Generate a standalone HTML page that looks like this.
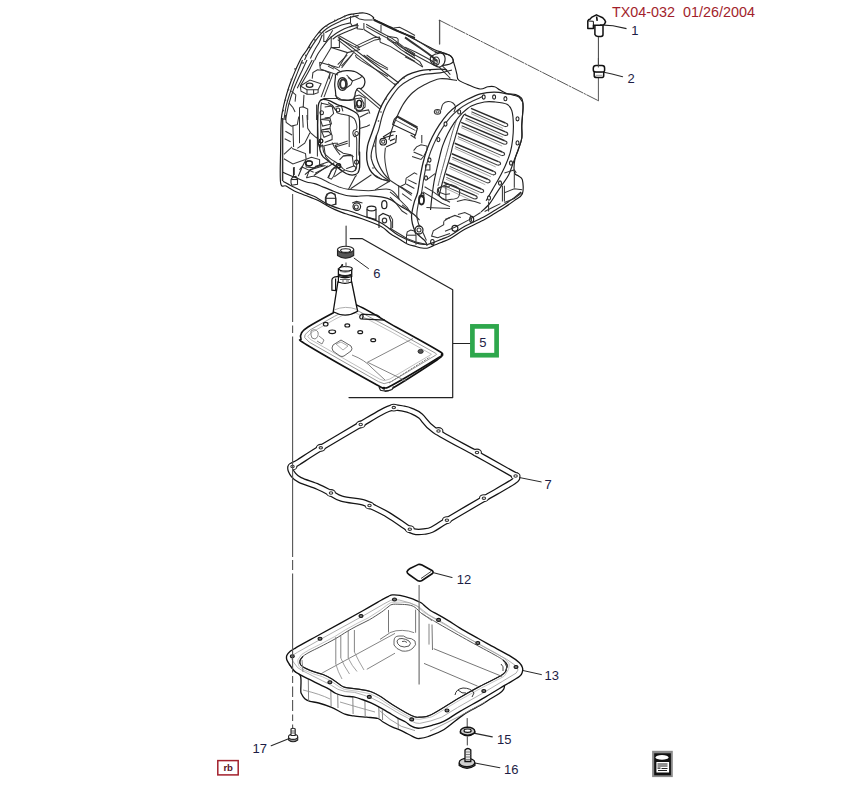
<!DOCTYPE html>
<html><head><meta charset="utf-8"><style>
html,body{margin:0;padding:0;background:#fff;width:860px;height:808px;overflow:hidden}
svg{display:block}
text{font-family:"Liberation Sans",sans-serif}
</style></head><body>
<svg width="860" height="808" viewBox="0 0 860 808">
<rect width="860" height="808" fill="#fff"/>

<text x="612" y="16.9" font-size="14" fill="#a21e2c" textLength="143" lengthAdjust="spacingAndGlyphs" style="white-space:pre" xml:space="preserve">TX04-032  01/26/2004</text>
<g fill="none" stroke="#2a2a2a" stroke-width="1" stroke-linecap="round" stroke-linejoin="round">
<path d="M439.6,44 V20.3" stroke="#555" stroke-width="1.3"/>
<path d="M439.6,20.3 L598.5,100.8" stroke="#444" stroke-dasharray="12,1.5,1.5,1.5" stroke-width="0.9"/>
<path d="M598.4,100.8 V78" stroke="#444" stroke-width="0.9"/>
<path d="M598.4,65.5 V37.5" stroke-width="0.9"/>
<path d="M604,72.3 L612,74 L622.6,76.7" stroke-width="1.1"/>
<path d="M346.1,226 V251.5" stroke-width="1.2" stroke="#444"/>
<path d="M354.2,258.2 L368.5,268.6" stroke-width="1"/>
<path d="M350.2,238.6 H362 L452.7,289.8 V397.6 H349 M452.7,343.5 H470.5" stroke-width="1.2" stroke="#222" stroke-linejoin="round"/>
<path d="M520.2,477.7 L541.2,481.9" stroke-width="1"/>
<path d="M433.7,572.8 L452,577.5" stroke-width="1.1"/>
<path d="M522.5,670.4 L541.4,674.6" stroke-width="1"/>
<path d="M467.2,718.5 V727 M467.3,737 V745" stroke-width="0.9"/>
<path d="M474.9,733.4 L492.3,736.9 M474.9,763 L499.9,767.7" stroke-width="1.1"/>
<path d="M288.6,738.8 L271.2,745.8" stroke-width="1.1"/>
</g>
<g font-size="13" fill="#1d1d45">
<text x="631.2" y="34.8">1</text>
<text x="627.6" y="82.8">2</text>
<text x="373.3" y="277.6">6</text>
<text x="479.2" y="346.8">5</text>
<text x="544.6" y="489.2">7</text>
<text x="456.8" y="583.8">12</text>
<text x="544.6" y="679.8">13</text>
<text x="497" y="743.8">15</text>
<text x="504" y="774.1">16</text>
<text x="252.6" y="752.8">17</text>
</g>
<rect x="472.4" y="326.4" width="24.2" height="28.8" fill="none" stroke="#2ea74c" stroke-width="4.7"/>
<rect x="217.8" y="760.6" width="20.4" height="14.3" fill="#fff" stroke="#a3202c" stroke-width="1.5"/>
<text x="223.4" y="770.8" font-size="9.6" font-weight="bold" fill="#5a1424">rb</text>
<g>
<rect x="652.1" y="750.8" width="20.7" height="26.3" fill="#8a8a8a"/>
<rect x="654.2" y="753.3" width="16.7" height="22" fill="#111"/>
<ellipse cx="662" cy="757.4" rx="6.5" ry="2.4" fill="#fff"/>
<rect x="656.4" y="762" width="12.7" height="10.5" fill="#fff"/>
<path d="M657.5,764 h10 M657.5,766 h10 M657.5,768.2 h3 M661.5,768.5 h6 M658,770.5 h9" stroke="#222" stroke-width="1.2"/>
</g>
<path d="M347.0,15.2 C349.4,14.3 351.1,14.3 353.0,14.0 C354.9,13.7 356.9,13.4 358.7,13.2 C360.5,13.0 362.2,12.8 364.0,13.0 C365.8,13.2 367.9,13.8 369.5,14.5 C371.1,15.2 372.6,16.6 373.5,17.5 C374.4,18.4 371.5,17.9 375.0,19.8 C378.5,21.7 388.3,25.9 394.5,28.9 C400.7,31.9 405.4,34.6 412.0,38.0 C418.6,41.4 429.0,47.1 434.0,49.5 C439.0,51.9 439.4,51.3 442.0,52.3 C444.6,53.2 447.9,54.2 449.6,55.2 C451.4,56.2 451.9,57.2 452.5,58.2 C453.1,59.2 452.8,59.5 453.3,61.2 C453.8,62.9 454.9,66.4 455.5,68.6 C456.1,70.8 456.5,72.7 457.0,74.6 C457.5,76.5 456.7,78.1 458.5,79.8 C460.3,81.5 464.2,83.1 467.8,84.6 C471.4,86.1 476.6,88.6 480.0,89.0 C483.4,89.4 485.5,87.2 487.9,86.8 C490.3,86.4 492.6,86.2 494.6,86.8 C496.6,87.3 498.1,89.0 500.1,90.1 C502.1,91.2 504.2,92.8 506.8,93.5 C509.4,94.2 513.3,93.9 515.7,94.6 C518.1,95.3 520.1,96.6 521.3,97.9 C522.5,99.2 522.5,100.6 522.8,102.4 C523.1,104.2 523.2,105.2 523.0,109.0 C522.8,112.8 522.0,120.4 521.8,125.2 C521.6,130.0 522.3,134.0 521.8,138.0 C521.2,142.0 519.7,145.6 518.5,149.3 C517.3,153.0 515.5,156.1 514.8,160.0 C514.1,163.9 513.9,170.3 514.5,172.9 C515.1,175.5 517.0,174.7 518.3,175.8 C519.6,177.0 521.7,176.8 522.4,179.8 C523.1,182.8 523.8,190.2 522.4,193.7 C521.0,197.2 517.3,198.3 514.3,200.6 C511.3,202.9 507.7,205.3 504.4,207.5 C501.1,209.7 497.8,211.5 494.5,213.5 C491.2,215.5 489.6,216.8 484.6,219.4 C479.7,222.0 470.6,226.1 464.8,229.3 C459.0,232.5 453.8,236.6 450.0,238.7 C446.2,240.8 444.8,240.9 442.0,242.1 C439.2,243.2 435.6,244.6 433.3,245.6 C431.0,246.6 429.9,247.6 428.0,248.0 C426.1,248.4 424.0,248.2 422.0,248.0 C420.0,247.8 418.4,247.2 416.0,246.5 C413.6,245.8 410.2,245.2 407.3,243.9 C404.4,242.6 401.6,240.4 398.7,238.7 C395.8,237.0 392.9,235.5 390.0,233.5 C387.1,231.5 385.9,228.9 381.2,226.5 C376.5,224.1 367.5,220.8 362.0,218.8 C356.5,216.8 351.1,215.5 348.0,214.5 C344.9,213.5 345.3,213.7 343.1,212.9 C340.9,212.1 337.7,210.8 335.0,209.6 C332.3,208.4 329.5,207.1 326.8,205.6 C324.1,204.1 321.4,202.1 318.7,200.7 C316.0,199.3 313.3,198.5 310.6,197.4 C307.9,196.3 305.1,195.3 302.4,194.2 C299.7,193.1 297.0,192.3 294.3,190.9 C291.6,189.5 288.4,187.3 286.1,186.0 C283.8,184.7 281.5,188.8 280.6,182.8 C279.7,176.8 280.5,159.6 280.6,150.0 C280.7,140.4 280.8,130.7 281.0,125.0 C281.2,119.3 281.2,119.1 281.7,115.7 C282.2,112.3 283.0,108.3 283.9,104.6 C284.8,100.9 285.8,97.1 286.9,93.4 C288.0,89.7 289.2,86.0 290.6,82.3 C292.0,78.6 293.7,74.4 295.1,71.1 C296.5,67.8 297.8,65.0 299.0,62.5 C300.2,60.0 301.2,58.0 302.5,56.0 C303.8,54.0 305.3,52.5 306.7,50.3 C308.1,48.1 309.5,45.4 311.1,42.9 C312.7,40.4 314.4,37.9 316.3,35.5 C318.2,33.1 320.1,30.8 322.3,28.8 C324.5,26.8 327.0,25.2 329.7,23.6 C332.4,22.0 335.7,20.5 338.6,19.1 C341.5,17.7 344.6,16.1 347.0,15.2 Z" fill="#fff" stroke="#1a1a1a" stroke-width="1.15" />
<path d="M282.6,118.0 L282.6,181.0" fill="none" stroke="#333" stroke-width="1.49"/>
<path d="M358.7,15.4 C357.1,15.8 352.1,16.7 349.0,17.7 C345.9,18.6 343.1,20.0 340.1,21.4 C337.1,22.7 333.9,24.2 331.2,25.8 C328.5,27.4 326.0,29.0 323.8,31.0 C321.5,33.0 319.7,35.4 317.8,37.7 C316.0,40.1 314.2,42.7 312.6,45.1 C311.0,47.6 309.5,50.1 308.2,52.6 C306.8,55.0 305.1,58.7 304.5,60.0" fill="none" stroke="#2a2a2a" stroke-width="1.09" />
<path d="M350.5,22.9 C349.0,23.2 344.6,24.1 341.6,25.1 C338.6,26.1 335.4,27.6 332.7,28.8 C329.9,30.0 326.5,31.9 325.2,32.5" fill="none" stroke="#2a2a2a" stroke-width="1.09" />
<path d="M322.3,34.7 C321.8,36.0 320.5,39.7 319.3,42.2 C318.1,44.6 316.3,46.9 314.9,49.6 C313.4,52.3 311.1,57.0 310.4,58.5" fill="none" stroke="#2a2a2a" stroke-width="1.09" />
<path d="M357.9,24.3 C356.3,24.8 351.2,26.2 348.3,27.3 C345.3,28.4 342.4,29.8 340.1,31.0 C337.7,32.3 336.1,33.2 334.2,34.7 C332.2,36.2 330.1,37.9 328.2,39.9 C326.4,41.9 324.8,44.3 323.0,46.6 C321.3,49.0 319.2,51.8 317.8,54.0 C316.5,56.3 315.3,59.0 314.9,60.0" fill="none" stroke="#2a2a2a" stroke-width="1.09" />
<path d="M357.9,27.3 C356.9,27.7 354.2,28.7 352.0,29.5 C349.8,30.4 346.9,31.5 344.6,32.5 C342.2,33.5 339.9,34.4 337.9,35.5 C335.9,36.6 333.5,38.6 332.7,39.2" fill="none" stroke="#2a2a2a" stroke-width="1.09" />
<path d="M323.8,32.5 L323.8,41.4 L326.0,41.4 L332.7,30.3" fill="none" stroke="#333" stroke-width="1.03"/>
<path d="M331.2,36.2 L331.2,47.4 L339.4,47.4 L339.4,37.7" fill="none" stroke="#333" stroke-width="1.03"/>
<path d="M338.6,35.5 L360.0,47.4" fill="none" stroke="#333" stroke-width="1.03"/>
<path d="M338.6,38.4 L360.0,49.6" fill="none" stroke="#333" stroke-width="1.03"/>
<path d="M350.5,16.2 L350.5,22.9" fill="none" stroke="#333" stroke-width="1.03"/>
<path d="M358.7,25.8 L352.0,25.8 L350.5,22.9" fill="none" stroke="#333" stroke-width="1.03"/>
<path d="M331.2,47.4 L347.5,52.6 L360.0,49.6" fill="none" stroke="#333" stroke-width="1.03"/>
<path d="M331.2,47.4 L320.0,65.9" fill="none" stroke="#333" stroke-width="1.03"/>
<path d="M353.5,52.6 L341.6,68.0" fill="none" stroke="#333" stroke-width="1.03"/>
<path d="M347.5,52.6 L338.6,68.0" fill="none" stroke="#333" stroke-width="1.03"/>
<circle cx="353.5" cy="14.7" r="0.9" fill="#444"/>
<circle cx="344.6" cy="16.5" r="0.9" fill="#444"/>
<circle cx="334.9" cy="20.3" r="0.9" fill="#444"/>
<circle cx="326.7" cy="25.8" r="0.9" fill="#444"/>
<circle cx="320.0" cy="32.5" r="0.9" fill="#444"/>
<circle cx="314.9" cy="39.9" r="0.9" fill="#444"/>
<circle cx="309.7" cy="47.4" r="0.9" fill="#444"/>
<circle cx="305.9" cy="55.5" r="0.9" fill="#444"/>
<circle cx="303.0" cy="62.9" r="0.9" fill="#444"/>
<path d="M302.5,60.0 C301.8,61.9 299.5,67.4 298.0,71.1 C296.6,74.9 295.0,78.6 293.6,82.3 C292.2,86.0 291.1,89.5 289.9,93.4 C288.6,97.4 287.2,101.6 286.2,106.0 C285.2,110.5 284.3,117.7 283.9,120.0" fill="none" stroke="#2a2a2a" stroke-width="1.09" />
<path d="M307.0,60.0 C306.2,61.6 304.1,66.2 302.5,69.7 C300.9,73.1 298.9,77.2 297.3,80.8 C295.7,84.4 294.2,87.5 292.9,91.2 C291.5,94.9 290.3,98.9 289.1,103.1 C288.0,107.3 286.8,113.6 286.2,116.4 C285.5,119.3 285.5,119.4 285.4,120.0" fill="none" stroke="#2a2a2a" stroke-width="1.09" />
<path d="M312.2,60.0 C311.3,61.6 308.7,66.4 307.0,69.7 C305.2,72.9 303.4,76.2 301.8,79.3 C300.2,82.4 298.0,86.7 297.3,88.2" fill="none" stroke="#2a2a2a" stroke-width="1.09" />
<path d="M314.4,60.0 C313.6,61.5 311.4,66.1 309.9,68.9 C308.4,71.8 307.1,74.2 305.5,77.1 C303.9,79.9 301.1,84.5 300.3,86.0" fill="none" stroke="#2a2a2a" stroke-width="1.09" />
<path d="M300.3,86.0 L309.9,80.0 L321.1,83.8 L318.1,89.7 L307.0,89.7 L300.3,86.0" fill="none" stroke="#333" stroke-width="1.03"/>
<path d="M300.3,86.0 L301.0,91.2 L307.0,94.2 L313.6,94.2 L318.1,92.7 L318.1,89.7" fill="none" stroke="#333" stroke-width="1.03"/>
<path d="M307.0,89.7 L307.0,94.2" fill="none" stroke="#333" stroke-width="1.03"/>
<path d="M313.6,89.7 L313.6,94.2" fill="none" stroke="#333" stroke-width="1.03"/>
<path d="M304.0,94.9 L303.2,107.5" fill="none" stroke="#333" stroke-width="1.03"/>
<path d="M299.5,107.5 L299.5,120.0" fill="none" stroke="#333" stroke-width="1.03"/>
<path d="M299.5,107.5 L303.2,106.8 L307.7,109.0 L307.7,120.0" fill="none" stroke="#333" stroke-width="1.03"/>
<path d="M312.2,78.6 L312.9,72.6 L317.4,69.7 L324.0,70.4 L330.0,73.4 L329.2,79.3" fill="none" stroke="#333" stroke-width="1.03"/>
<path d="M330.0,73.4 L321.1,97.1" fill="none" stroke="#333" stroke-width="1.03"/>
<path d="M332.9,74.1 L324.0,97.1" fill="none" stroke="#333" stroke-width="1.03"/>
<path d="M319.6,62.2 L320.3,68.9" fill="none" stroke="#333" stroke-width="1.03"/>
<path d="M319.6,62.2 L338.0,67.4" fill="none" stroke="#333" stroke-width="1.03"/>
<path d="M320.3,68.9 L338.0,74.9" fill="none" stroke="#333" stroke-width="1.03"/>
<path d="M321.1,100.1 L324.0,98.6 L338.0,98.6" fill="none" stroke="#333" stroke-width="1.03"/>
<path d="M316.6,104.6 L316.6,120.0" fill="none" stroke="#333" stroke-width="1.03"/>
<path d="M289.1,103.1 L292.9,107.5 L295.1,112.0" fill="none" stroke="#333" stroke-width="1.03"/>
<path d="M291.4,91.2 L295.8,94.9 L295.1,101.6" fill="none" stroke="#333" stroke-width="1.03"/>
<ellipse cx="309.6" cy="85.2" rx="3.3" ry="2.1" fill="none" stroke="#222" stroke-width="1.26"/>
<circle cx="295.1" cy="68.9" r="0.9" fill="#444"/>
<circle cx="291.4" cy="79.3" r="0.9" fill="#444"/>
<circle cx="288.4" cy="89.7" r="0.9" fill="#444"/>
<circle cx="285.4" cy="100.1" r="0.9" fill="#444"/>
<circle cx="283.2" cy="110.5" r="0.9" fill="#444"/>
<path d="M355.0,16.2 L359.5,19.1 L364.7,19.9 L372.8,19.9" fill="none" stroke="#333" stroke-width="1.03"/>
<path d="M357.2,22.9 L357.2,28.8 L363.2,29.5" fill="none" stroke="#333" stroke-width="1.03"/>
<path d="M363.9,22.9 L363.9,29.5" fill="none" stroke="#333" stroke-width="1.03"/>
<path d="M366.1,24.3 L381.0,32.5 L392.1,38.4 L403.3,46.6 L415.0,54.0" fill="none" stroke="#333" stroke-width="1.03"/>
<path d="M366.1,26.6 L379.5,34.0 L390.6,39.9 L402.5,48.1 L415.0,56.3" fill="none" stroke="#333" stroke-width="1.03"/>
<path d="M381.0,25.1 L381.0,31.8" fill="none" stroke="#333" stroke-width="1.03"/>
<path d="M393.6,28.0 L399.6,27.3 L407.0,31.0 L415.0,35.5" fill="none" stroke="#333" stroke-width="1.03"/>
<path d="M395.1,30.3 L402.5,32.5 L415.0,39.2" fill="none" stroke="#333" stroke-width="1.03"/>
<path d="M363.9,29.5 L373.6,35.5 L381.0,39.2" fill="none" stroke="#333" stroke-width="1.03"/>
<path d="M355.0,46.6 L362.4,42.9 L373.6,37.7 L379.5,37.0 L380.2,42.2" fill="none" stroke="#333" stroke-width="1.03"/>
<path d="M357.2,48.1 L375.0,39.9 L379.5,39.2" fill="none" stroke="#333" stroke-width="1.03"/>
<path d="M380.2,42.2 L390.6,46.6 L402.5,54.0 L415.0,61.5" fill="none" stroke="#333" stroke-width="1.03"/>
<path d="M387.7,36.2 L396.6,37.7 L398.1,39.2 L398.1,42.9 L392.1,42.2 L387.7,39.2 L387.7,36.2" fill="none" stroke="#333" stroke-width="1.03"/>
<path d="M396.6,42.9 L405.5,49.6 L415.0,55.5" fill="none" stroke="#333" stroke-width="1.03"/>
<path d="M392.1,42.2 L401.0,49.6 L415.0,58.5" fill="none" stroke="#333" stroke-width="1.03"/>
<path d="M373.6,19.9 L384.7,25.1 L393.6,29.5 L402.5,33.2 L415.0,37.7" fill="none" stroke="#222" stroke-width="1.72"/>
<path d="M405.0,33.7 L418.4,41.1 L433.2,50.8 L436.9,52.3" fill="none" stroke="#333" stroke-width="1.03"/>
<path d="M405.0,47.1 L416.1,52.3 L427.3,58.2 L434.7,62.7 L437.7,64.9" fill="none" stroke="#333" stroke-width="1.03"/>
<path d="M405.0,50.0 L415.4,55.2 L426.5,61.2 L434.7,65.6" fill="none" stroke="#333" stroke-width="1.03"/>
<path d="M405.0,52.3 L412.4,56.7 L419.9,61.9 L422.8,67.1" fill="none" stroke="#333" stroke-width="1.03"/>
<path d="M405.0,56.7 L413.9,61.2 L422.8,67.1" fill="none" stroke="#333" stroke-width="1.03"/>
<path d="M439.2,67.1 L444.4,72.3 L448.1,76.0 L450.3,78.3" fill="none" stroke="#333" stroke-width="1.03"/>
<path d="M442.1,65.6 L446.6,70.1 L450.3,74.6" fill="none" stroke="#333" stroke-width="1.03"/>
<path d="M405.0,37.4 L412.4,42.6 L419.9,47.8 L427.3,53.0 L433.2,57.5 L436.9,61.2" fill="none" stroke="#333" stroke-width="1.95"/>
<path d="M430.2,57.5 C430.7,57.1 432.1,55.9 433.2,55.2 C434.3,54.6 435.7,54.1 436.9,53.8 C438.2,53.4 439.5,52.9 440.6,53.0 C441.8,53.1 442.9,53.6 443.6,54.5 C444.4,55.4 445.0,56.9 445.1,58.2 C445.2,59.6 444.9,61.4 444.4,62.7 C443.9,63.9 443.0,64.9 442.1,65.6 C441.3,66.4 440.4,67.1 439.2,67.1 C437.9,67.1 436.1,66.5 434.7,65.6 C433.3,64.8 431.7,63.3 431.0,61.9 C430.2,60.6 430.4,58.2 430.2,57.5" fill="none" stroke="#222" stroke-width="1.15" />
<path d="M434.7,53.0 C435.2,52.9 436.1,52.2 437.7,52.3 C439.3,52.4 442.4,53.3 444.4,53.8 C446.3,54.3 448.2,54.5 449.6,55.2 C450.9,56.0 451.9,57.2 452.5,58.2 C453.1,59.2 453.5,60.3 453.3,61.2 C453.0,62.1 452.2,62.8 451.0,63.4 C449.9,64.0 448.1,64.5 446.6,64.9 C445.1,65.3 442.9,65.5 442.1,65.6" fill="none" stroke="#222" stroke-width="1.15" />
<ellipse cx="436.2" cy="61.2" rx="3.2" ry="4.2" fill="none" stroke="#222" stroke-width="1.15"/>
<ellipse cx="435.7" cy="61.7" rx="1.6" ry="2.4" fill="none" stroke="#444" stroke-width="1.03"/>
<path d="M335.4,75.0 C336.0,74.6 337.3,72.8 339.1,72.1 C341.0,71.3 344.1,70.7 346.6,70.6 C349.0,70.5 351.6,70.6 354.0,71.3 C356.3,72.1 358.9,73.8 360.7,75.0 C362.4,76.3 363.8,77.2 364.4,78.8 C365.0,80.4 364.9,83.1 364.4,84.7 C363.9,86.3 362.5,87.8 361.4,88.4 C360.3,89.0 358.7,87.8 357.7,88.4 C356.7,89.0 356.0,90.8 355.5,92.1 C355.0,93.5 355.1,95.3 354.7,96.6 C354.4,97.8 354.6,98.9 353.2,99.6 C351.9,100.2 348.9,100.3 346.6,100.3 C344.2,100.3 340.9,100.2 339.1,99.6 C337.4,98.9 336.8,98.1 336.2,96.6 C335.5,95.1 335.7,92.6 335.4,90.6 C335.2,88.7 334.7,86.9 334.7,84.7 C334.7,82.5 335.3,78.9 335.4,77.3 C335.5,75.7 335.4,75.4 335.4,75.0" fill="none" stroke="#222" stroke-width="1.21" />
<ellipse cx="342.5" cy="84.0" rx="4.6" ry="6.4" fill="none" stroke="#222" stroke-width="1.26"/>
<ellipse cx="343.1" cy="84.0" rx="3.0" ry="4.6" fill="none" stroke="#333" stroke-width="2.07"/>
<path d="M346.6,75.0 L352.5,81.0 L359.9,78.0 L362.9,75.8" fill="none" stroke="#333" stroke-width="1.03"/>
<path d="M348.0,77.3 L352.5,81.0 L351.0,84.7 L346.6,87.7" fill="none" stroke="#333" stroke-width="1.03"/>
<path d="M356.2,89.2 L380.0,109.2" fill="none" stroke="#333" stroke-width="1.03"/>
<path d="M359.9,88.4 L381.5,107.0" fill="none" stroke="#333" stroke-width="1.03"/>
<path d="M328.0,63.9 L335.4,68.4 L341.4,72.1" fill="none" stroke="#333" stroke-width="1.03"/>
<path d="M328.0,66.1 L333.9,69.1" fill="none" stroke="#333" stroke-width="1.03"/>
<path d="M337.7,64.7 L345.1,57.2 L347.3,55.0" fill="none" stroke="#333" stroke-width="1.03"/>
<path d="M341.4,66.1 L348.8,58.0 L351.8,55.0" fill="none" stroke="#333" stroke-width="1.03"/>
<path d="M355.5,55.0 L356.2,57.2 L361.4,60.9 L372.6,67.6 L388.0,76.5" fill="none" stroke="#333" stroke-width="1.03"/>
<path d="M363.6,55.0 L369.6,59.5 L380.0,66.1 L388.0,69.9" fill="none" stroke="#333" stroke-width="1.03"/>
<path d="M366.6,55.0 L374.0,60.2 L388.0,68.4" fill="none" stroke="#333" stroke-width="1.03"/>
<path d="M328.0,102.5 L332.5,105.5 L336.9,111.4" fill="none" stroke="#333" stroke-width="1.03"/>
<path d="M335.4,107.0 L341.4,105.5 L342.9,111.4" fill="none" stroke="#333" stroke-width="1.03"/>
<path d="M354.0,96.6 L359.2,95.1 L365.1,98.1 L365.1,107.0 L359.9,111.4 L354.7,108.5 L354.0,96.6" fill="none" stroke="#333" stroke-width="1.03"/>
<ellipse cx="359.2" cy="104.0" rx="2.6" ry="3.6" fill="none" stroke="#222" stroke-width="1.15"/>
<path d="M285.4,115.0 L286.2,122.4 L291.4,126.1 L297.3,124.7 L298.8,116.5" fill="none" stroke="#333" stroke-width="1.03"/>
<path d="M299.5,115.0 L299.5,143.2" fill="none" stroke="#333" stroke-width="1.03"/>
<path d="M302.5,115.0 L303.2,127.6" fill="none" stroke="#333" stroke-width="1.03"/>
<path d="M307.0,115.0 L307.7,128.4 L310.7,132.8 L315.9,137.3 L318.1,138.8" fill="none" stroke="#333" stroke-width="1.03"/>
<path d="M317.4,115.0 L317.4,156.6" fill="none" stroke="#333" stroke-width="1.03"/>
<path d="M320.3,119.5 L330.0,118.0 L331.5,123.9 L322.6,126.1 L320.3,119.5" fill="none" stroke="#333" stroke-width="1.03"/>
<path d="M321.1,129.9 L330.0,128.4 L331.5,134.3 L324.0,137.3 L321.1,129.9" fill="none" stroke="#333" stroke-width="1.03"/>
<path d="M284.7,138.8 L290.6,141.7" fill="none" stroke="#333" stroke-width="1.03"/>
<path d="M285.4,131.3 L292.1,135.0" fill="none" stroke="#333" stroke-width="1.03"/>
<path d="M292.9,126.1 L293.6,146.9" fill="none" stroke="#333" stroke-width="1.03"/>
<path d="M292.1,146.9 L283.9,154.4" fill="none" stroke="#333" stroke-width="1.03"/>
<path d="M292.1,148.4 L305.5,153.6 L306.2,159.6" fill="none" stroke="#333" stroke-width="1.03"/>
<path d="M283.9,158.8 L292.9,164.0 L305.5,159.6" fill="none" stroke="#333" stroke-width="1.03"/>
<path d="M297.3,148.4 L304.7,143.2 L307.7,137.3 L309.9,132.8" fill="none" stroke="#333" stroke-width="1.03"/>
<path d="M305.5,159.6 L311.4,157.3 L319.6,159.6 L319.6,165.5 L313.6,167.7 L306.2,167.0 L305.5,159.6" fill="none" stroke="#333" stroke-width="1.03"/>
<path d="M324.0,146.2 L325.5,156.6 L330.0,161.8" fill="none" stroke="#333" stroke-width="1.03"/>
<path d="M322.6,146.2 L334.4,143.2 L338.0,143.2" fill="none" stroke="#333" stroke-width="1.03"/>
<path d="M294.3,167.0 L294.3,175.0" fill="none" stroke="#333" stroke-width="1.03"/>
<path d="M299.5,169.9 L301.8,167.0 L308.4,169.9 L313.6,172.2" fill="none" stroke="#333" stroke-width="1.03"/>
<path d="M309.9,169.9 L319.6,167.0 L325.5,165.5" fill="none" stroke="#333" stroke-width="1.03"/>
<path d="M309.9,139.5 L309.9,153.6" fill="none" stroke="#333" stroke-width="1.84"/>
<ellipse cx="309.2" cy="163.3" rx="3.3" ry="2.5" fill="none" stroke="#222" stroke-width="1.15"/>
<ellipse cx="321.1" cy="141.0" rx="1.9" ry="1.9" fill="none" stroke="#222" stroke-width="1.03"/>
<path d="M319.5,147.0 C319.2,146.1 318.2,145.7 318.0,139.6 C317.7,133.4 317.7,116.2 318.0,109.9 C318.2,103.5 318.7,103.4 319.5,101.7 C320.2,100.0 320.7,99.6 322.4,99.5 C324.2,99.3 327.4,100.1 329.9,100.9 C332.3,101.8 334.6,103.5 337.3,104.7 C340.0,105.8 343.5,106.5 346.2,107.6 C348.9,108.7 351.6,110.1 353.6,111.3 C355.6,112.6 357.1,113.4 358.1,115.0 C359.1,116.7 359.3,118.1 359.6,121.0 C359.8,123.8 359.6,127.8 359.6,132.1 C359.5,136.5 359.2,143.2 359.2,147.0 C359.1,150.8 359.1,154.1 359.2,155.0 C359.2,155.9 359.5,150.4 359.6,152.4 C359.6,154.5 359.8,163.9 359.6,167.3 C359.3,170.6 358.8,171.2 358.1,172.5 C357.3,173.7 356.6,174.3 355.1,174.7 C353.6,175.1 351.1,175.2 349.2,174.7 C347.2,174.2 345.2,173.0 343.2,171.7 C341.2,170.5 339.5,168.9 337.3,167.3 C335.0,165.7 332.2,163.8 329.9,162.1 C327.5,160.3 324.8,158.7 323.2,156.9 C321.6,155.0 320.8,152.9 320.2,150.9 C319.6,149.0 319.6,145.7 319.5,145.0 C319.3,144.3 319.7,147.9 319.5,147.0 Z" fill="none" stroke="#1e1e1e" stroke-width="1.32" />
<path d="M321.7,103.2 C323.0,103.5 327.5,104.3 329.9,105.4 C332.2,106.5 334.6,108.6 335.8,109.9 C337.0,111.1 336.2,112.1 337.3,112.8 C338.4,113.6 340.5,113.8 342.5,114.3 C344.5,114.8 347.2,115.0 349.2,115.8 C351.1,116.5 353.1,117.3 354.4,118.8 C355.6,120.2 356.2,123.0 356.6,124.7 C357.0,126.4 357.1,128.2 356.6,129.2 C356.1,130.1 354.2,129.9 353.6,130.6 C353.0,131.4 352.7,132.6 352.9,133.6 C353.0,134.6 353.7,135.8 354.4,136.6 C355.0,137.3 356.2,135.0 356.6,138.1 C357.0,141.1 356.6,152.6 356.6,155.0 C356.6,157.4 356.6,150.4 356.6,152.4 C356.6,154.5 356.8,164.3 356.6,167.3 C356.3,170.2 355.8,169.5 355.1,170.2 C354.4,171.0 353.4,171.6 352.1,171.7 C350.9,171.9 349.2,171.5 347.7,171.0 C346.2,170.5 344.7,169.9 343.2,168.8 C341.7,167.6 340.2,165.5 338.8,164.3 C337.3,163.1 335.8,162.3 334.3,161.3 C332.8,160.3 331.6,159.9 329.9,158.4 C328.1,156.9 325.1,154.7 323.9,152.4 C322.7,150.2 323.0,145.9 322.4,145.0 C321.9,144.1 320.9,147.9 320.6,147.0 C320.3,146.1 320.5,142.0 320.6,139.6 C320.6,137.1 320.9,135.8 320.9,132.1 C320.9,128.4 320.6,121.6 320.6,117.3 C320.6,112.9 320.8,108.5 320.9,106.1 C321.1,103.8 321.6,103.7 321.7,103.2 C321.8,102.7 320.3,102.8 321.7,103.2 Z" fill="none" stroke="#333" stroke-width="1.03" />
<ellipse cx="338.0" cy="109.9" rx="1.8" ry="2.0" fill="none" stroke="#222" stroke-width="1.03"/>
<ellipse cx="356.6" cy="133.6" rx="1.8" ry="2.0" fill="none" stroke="#222" stroke-width="1.03"/>
<ellipse cx="320.9" cy="141.0" rx="1.8" ry="2.0" fill="none" stroke="#222" stroke-width="1.03"/>
<ellipse cx="321.7" cy="112.8" rx="1.8" ry="2.0" fill="none" stroke="#222" stroke-width="1.03"/>
<ellipse cx="338.8" cy="165.8" rx="2.0" ry="2.2" fill="none" stroke="#222" stroke-width="1.03"/>
<ellipse cx="356.6" cy="162.1" rx="2.0" ry="2.2" fill="none" stroke="#222" stroke-width="1.03"/>
<path d="M321.7,119.5 L329.1,120.2 L330.6,124.7 L329.9,128.4 L322.4,129.9" fill="none" stroke="#333" stroke-width="1.03"/>
<path d="M320.9,132.1 L328.4,131.4 L332.1,135.1 L332.1,139.6 L324.7,142.5" fill="none" stroke="#333" stroke-width="1.03"/>
<path d="M324.7,106.9 L332.1,106.1 L333.6,113.6 L329.9,117.3 L324.7,118.0" fill="none" stroke="#333" stroke-width="1.03"/>
<path d="M332.1,142.5 L334.3,147.0 L337.3,151.4 L340.2,155.0" fill="none" stroke="#333" stroke-width="1.03"/>
<path d="M335.0,145.5 L347.7,141.0" fill="none" stroke="#333" stroke-width="1.03"/>
<path d="M335.0,147.0 L347.7,143.3" fill="none" stroke="#333" stroke-width="1.03"/>
<path d="M349.2,115.8 L349.2,147.0" fill="none" stroke="#333" stroke-width="1.03"/>
<path d="M356.6,112.1 L368.5,109.9 L369.9,113.6" fill="none" stroke="#333" stroke-width="1.03"/>
<path d="M359.6,117.3 L368.5,112.8" fill="none" stroke="#333" stroke-width="1.03"/>
<path d="M359.6,128.4 L367.0,126.2 L369.9,124.7" fill="none" stroke="#333" stroke-width="1.03"/>
<path d="M355.1,98.7 L361.0,98.0 L364.0,103.9 L362.5,109.9 L356.6,110.6 L355.1,104.7 L355.1,98.7" fill="none" stroke="#333" stroke-width="1.03"/>
<path d="M335.0,95.0 L337.3,97.2 L341.0,99.5 L348.4,100.2 L354.4,98.7" fill="none" stroke="#333" stroke-width="1.03"/>
<ellipse cx="359.2" cy="103.2" rx="2.2" ry="3.0" fill="none" stroke="#222" stroke-width="1.15"/>
<path d="M335.0,145.0 L337.3,149.5 L343.2,153.2 L350.6,154.7 L353.6,156.9" fill="none" stroke="#333" stroke-width="1.03"/>
<path d="M339.5,159.9 L343.2,156.1 L350.6,154.7" fill="none" stroke="#333" stroke-width="1.03"/>
<path d="M343.2,156.1 L352.1,155.4 L353.6,165.8 L355.8,167.3 L355.1,171.0" fill="none" stroke="#333" stroke-width="1.03"/>
<path d="M346.2,168.8 L354.4,165.8" fill="none" stroke="#333" stroke-width="1.03"/>
<path d="M315.0,166.5 L329.9,161.3" fill="none" stroke="#333" stroke-width="1.03"/>
<path d="M315.0,173.2 L328.4,166.5 L334.3,162.8" fill="none" stroke="#333" stroke-width="1.03"/>
<path d="M328.4,177.7 L331.3,170.2 L334.3,167.3 L336.5,168.8 L333.6,176.2 L331.3,179.2 L328.4,177.7" fill="none" stroke="#333" stroke-width="1.03"/>
<path d="M334.3,176.9 L340.2,172.5 L344.7,170.2" fill="none" stroke="#333" stroke-width="1.03"/>
<path d="M348.4,189.6 L355.1,176.9 L356.6,175.4" fill="none" stroke="#333" stroke-width="1.03"/>
<path d="M350.6,188.8 L367.0,177.7 L371.4,174.7" fill="none" stroke="#333" stroke-width="1.03"/>
<path d="M326.1,197.0 L328.4,193.3 L331.3,192.5 L335.0,194.8 L335.8,198.5 L335.8,205.0" fill="none" stroke="#333" stroke-width="1.03"/>
<path d="M326.1,197.0 L326.1,205.0" fill="none" stroke="#333" stroke-width="1.03"/>
<path d="M352.1,202.9 L356.6,201.4 L362.5,202.9" fill="none" stroke="#333" stroke-width="1.03"/>
<path d="M282.9,181.2 C284.1,181.8 287.6,183.9 290.2,185.2 C292.8,186.6 295.6,187.9 298.3,189.3 C301.1,190.7 303.8,192.2 306.5,193.4 C309.2,194.6 311.9,195.3 314.6,196.6 C317.3,198.0 320.1,200.0 322.8,201.5 C325.5,203.0 328.1,204.4 330.9,205.6 C333.8,206.8 337.0,208.0 339.9,208.8 C342.7,209.7 344.3,209.4 348.0,210.5 C351.7,211.6 356.5,213.4 362.0,215.5 C367.5,217.6 375.1,219.7 381.2,223.0 C387.3,226.3 392.9,232.2 398.7,235.5 C404.5,238.8 411.4,241.5 416.0,243.0 C420.6,244.5 424.3,244.2 426.0,244.5" fill="none" stroke="#222" stroke-width="1.15" />
<path d="M282.9,172.2 C284.1,172.8 287.6,174.4 290.2,175.5 C292.8,176.6 295.6,177.6 298.3,178.7 C301.1,179.8 303.8,181.2 306.5,182.0 C309.2,182.8 311.9,182.8 314.6,183.6 C317.3,184.4 320.1,185.8 322.8,186.9 C325.5,187.9 328.2,189.0 330.9,190.1 C333.6,191.2 336.2,192.4 339.0,193.4 C341.9,194.3 345.1,195.3 348.0,195.8 C350.9,196.3 353.3,196.3 356.7,196.3 C360.1,196.3 363.2,195.5 368.4,195.8 C373.5,196.2 382.3,196.7 387.6,198.4 C392.9,200.1 396.1,203.4 400.3,206.0 C404.6,208.6 409.9,211.3 413.1,213.7 C416.3,216.0 418.4,219.0 419.5,220.1" fill="none" stroke="#222" stroke-width="1.15" />
<path d="M306.5,177.9 C307.8,177.6 311.9,176.0 314.6,176.3 C317.3,176.6 320.1,178.3 322.8,179.5 C325.5,180.8 328.2,182.4 330.9,183.6 C333.6,184.8 336.2,185.9 339.0,186.9 C341.9,187.8 343.1,188.7 348.0,189.3 C352.9,189.9 361.5,190.7 368.4,190.7 C375.3,190.7 384.4,188.0 389.6,189.4 C394.8,190.8 397.9,197.7 399.5,199.3" fill="none" stroke="#333" stroke-width="1.03" />
<path d="M291.0,179.5 L292.7,177.1 L295.9,176.3 L297.5,178.7 L297.5,184.4 L291.8,185.2 L291.0,182.8 L291.0,179.5" fill="none" stroke="#2a2a2a" stroke-width="1.09"/>
<path d="M325.2,198.3 L326.8,194.2 L330.9,192.6 L335.0,194.2 L335.8,198.3 L335.8,204.0 L330.9,205.6 L326.0,204.0 L325.2,198.3" fill="none" stroke="#2a2a2a" stroke-width="1.09"/>
<path d="M291.0,179.5 L297.5,179.5" fill="none" stroke="#2a2a2a" stroke-width="1.09"/>
<path d="M325.2,198.3 L335.8,198.3" fill="none" stroke="#2a2a2a" stroke-width="1.09"/>
<path d="M293.5,167.3 L293.5,177.1" fill="none" stroke="#2a2a2a" stroke-width="1.09"/>
<path d="M298.3,176.3 L302.4,166.5 L304.9,161.6" fill="none" stroke="#2a2a2a" stroke-width="1.09"/>
<path d="M304.9,174.7 L310.6,169.8 L317.1,166.5 L323.6,164.9" fill="none" stroke="#2a2a2a" stroke-width="1.09"/>
<path d="M306.5,177.9 L308.9,171.4 L310.6,169.0" fill="none" stroke="#2a2a2a" stroke-width="1.09"/>
<path d="M313.8,175.5 L321.1,170.6 L327.7,165.7" fill="none" stroke="#2a2a2a" stroke-width="1.09"/>
<path d="M327.7,177.9 L331.7,170.6 L335.0,167.3 L339.9,164.9" fill="none" stroke="#2a2a2a" stroke-width="1.09"/>
<ellipse cx="308.9" cy="163.3" rx="3.5" ry="2.5" fill="none" stroke="#222" stroke-width="1.15"/>
<ellipse cx="338.2" cy="165.7" rx="2" ry="2" fill="none" stroke="#222" stroke-width="1.15"/>
<ellipse cx="356.8" cy="206.6" rx="3.8" ry="3.8" fill="#fff" stroke="#222" stroke-width="1.15"/>
<ellipse cx="356.3" cy="207.0" rx="2" ry="2" fill="none" stroke="#333" stroke-width="1.03"/>
<path d="M367.0,209.0 L367.0,217.0 L376.0,219.5 L376.0,209.0" fill="none" stroke="#222" stroke-width="1.15"/>
<ellipse cx="371.5" cy="208.5" rx="4.5" ry="2.4" fill="#fff" stroke="#222" stroke-width="1.15"/>
<ellipse cx="384.3" cy="204.7" rx="2.6" ry="4" fill="#fff" stroke="#222" stroke-width="1.26"/>
<path d="M379.0,228.0 L379.0,216.0 L383.0,213.5 L389.0,216.0 L391.0,222.0 L391.0,229.0" fill="none" stroke="#222" stroke-width="1.15"/>
<ellipse cx="384.5" cy="220.5" rx="2.2" ry="2.4" fill="none" stroke="#333" stroke-width="1.15"/>
<path d="M337.7,36.6 L398.8,83.0" fill="none" stroke="#2a2a2a" stroke-width="1.15"/>
<path d="M337.7,39.6 L395.5,85.2" fill="none" stroke="#333" stroke-width="1.03"/>
<path d="M426.0,245.0 C427.2,244.6 430.6,243.6 433.3,242.6 C436.0,241.6 439.2,240.2 442.0,239.1 C444.8,237.9 446.2,237.8 450.0,235.7 C453.8,233.6 459.0,229.5 464.8,226.3 C470.6,223.1 479.7,219.0 484.6,216.4 C489.6,213.8 491.2,212.5 494.5,210.5 C497.8,208.5 501.1,206.7 504.4,204.5 C507.7,202.3 511.5,199.7 514.3,197.6 C517.1,195.5 519.9,192.9 521.0,192.0" fill="none" stroke="#222" stroke-width="1.15" />
<path d="M447.0,70.5 C446.5,70.3 446.7,69.5 443.9,69.3 C441.1,69.1 434.3,69.3 430.2,69.6 C426.1,69.9 423.2,70.0 419.4,70.9 C415.6,71.8 410.8,73.2 407.5,74.9 C404.2,76.6 402.2,78.3 399.6,80.8 C397.0,83.3 394.2,86.6 391.7,89.7 C389.2,92.8 386.8,96.3 384.8,99.6 C382.8,102.9 381.3,105.9 379.8,109.5 C378.3,113.1 377.2,117.3 375.8,121.4 C374.4,125.5 372.9,129.9 371.5,134.0 C370.1,138.1 368.3,141.7 367.5,146.0 C366.7,150.3 366.4,155.8 366.8,159.7 C367.2,163.6 368.5,167.0 369.8,169.6 C371.1,172.2 373.2,174.0 374.8,175.5 C376.4,177.0 377.2,177.5 379.7,178.5 C382.2,179.5 388.0,181.0 389.6,181.5" fill="none" stroke="#222" stroke-width="1.32" />
<path d="M452.0,70.0 C450.0,70.5 445.1,72.1 440.0,72.9 C434.9,73.7 426.5,73.8 421.4,74.9 C416.3,76.1 413.1,77.8 409.5,79.8 C405.9,81.8 402.6,83.9 399.6,86.7 C396.6,89.5 394.0,93.3 391.7,96.6 C389.4,99.9 387.3,103.0 385.7,106.5 C384.1,110.0 382.9,113.6 381.8,117.4 C380.7,121.2 379.9,125.5 378.8,129.3 C377.7,133.1 376.2,136.2 375.0,140.0 C373.8,143.8 372.1,148.9 371.5,152.0 C370.9,155.1 370.8,156.1 371.3,158.7 C371.9,161.3 373.2,164.9 374.8,167.6 C376.4,170.2 378.4,172.4 380.7,174.6 C383.0,176.8 387.3,179.5 388.6,180.5" fill="none" stroke="#2a2a2a" stroke-width="1.15" />
<path d="M457.0,80.5 C454.2,80.2 445.4,78.1 440.0,78.8 C434.6,79.5 429.0,82.5 424.4,84.8 C419.8,87.1 416.0,89.6 412.5,92.7 C409.0,95.8 406.1,99.8 403.6,103.6 C401.1,107.4 399.2,111.9 397.6,115.4 C396.0,118.9 394.9,121.3 393.7,124.4 C392.5,127.5 391.3,131.4 390.5,134.0 C389.7,136.6 389.2,139.0 389.0,140.0" fill="none" stroke="#2a2a2a" stroke-width="1.15" />
<path d="M376.5,135.0 C376.4,136.8 375.7,142.4 375.7,146.1 C375.7,149.8 375.9,154.0 376.5,157.3 C377.1,160.7 378.3,163.5 379.5,166.2 C380.7,168.9 382.2,171.2 383.9,173.6 C385.6,175.9 388.9,179.2 389.9,180.3" fill="none" stroke="#2a2a2a" stroke-width="1.15" />
<path d="M385.4,147.6 C385.3,149.2 384.6,153.8 384.7,157.3 C384.8,160.8 385.5,165.2 386.1,168.4 C386.7,171.6 387.8,174.6 388.4,176.6 C389.0,178.6 389.6,179.7 389.9,180.3" fill="none" stroke="#333" stroke-width="1.03" />
<circle cx="386" cy="99" r="0.8" fill="#333"/>
<circle cx="378.5" cy="121" r="0.8" fill="#333"/>
<circle cx="374" cy="146" r="0.8" fill="#333"/>
<circle cx="404" cy="78" r="0.8" fill="#333"/>
<circle cx="430" cy="70.5" r="0.8" fill="#333"/>
<circle cx="373" cy="168" r="0.8" fill="#333"/>
<circle cx="395" cy="84" r="0.8" fill="#333"/>
<circle cx="381" cy="112" r="0.8" fill="#333"/>
<path d="M394.2,119.4 L397.1,116.4 L417.4,128.3 L415.4,135.2 L392.7,124.4 L394.2,119.4" fill="none" stroke="#222" stroke-width="1.15"/>
<path d="M397.1,116.4 L417.4,127.5" fill="none" stroke="#333" stroke-width="2.07"/>
<path d="M394.2,119.4 L415.4,130.5" fill="none" stroke="#444" stroke-width="0.92"/>
<path d="M386.1,146.9 L395.8,142.4 L396.5,135.0" fill="none" stroke="#222" stroke-width="1.15"/>
<path d="M383.2,138.0 L393.6,135.0" fill="none" stroke="#222" stroke-width="1.15"/>
<path d="M389.9,140.9 L395.0,138.7" fill="none" stroke="#222" stroke-width="1.15"/>
<path d="M383.0,137.0 L391.0,132.0 L395.5,131.5" fill="none" stroke="#222" stroke-width="1.15"/>
<ellipse cx="383.2" cy="141.7" rx="3.3" ry="3.3" fill="#fff" stroke="#222" stroke-width="1.15"/>
<ellipse cx="383.2" cy="141.7" rx="1.6" ry="1.6" fill="none" stroke="#333" stroke-width="1.03"/>
<path d="M375.0,175.1 L382.4,179.6 L389.9,181.0" fill="none" stroke="#333" stroke-width="1.03"/>
<path d="M375.0,189.9 L389.9,181.0" fill="none" stroke="#333" stroke-width="1.03"/>
<path d="M389.9,180.3 L400.2,187.0 L403.2,188.5" fill="none" stroke="#333" stroke-width="1.03"/>
<path d="M406.2,178.1 L414.4,172.9 L417.3,174.4" fill="none" stroke="#333" stroke-width="1.03"/>
<path d="M406.2,178.1 L405.4,184.0 L399.5,187.0" fill="none" stroke="#333" stroke-width="1.03"/>
<path d="M407.7,179.6 L416.6,184.0" fill="none" stroke="#333" stroke-width="1.03"/>
<path d="M406.2,184.0 L414.4,188.5" fill="none" stroke="#333" stroke-width="1.03"/>
<path d="M401.0,187.0 L412.1,193.7" fill="none" stroke="#333" stroke-width="1.03"/>
<path d="M413.6,150.6 L416.6,146.9 L421.0,144.7 L427.0,146.1 L427.0,149.9 L424.0,155.8 L421.0,159.5 L416.6,158.0 L412.1,156.5" fill="none" stroke="#333" stroke-width="1.03"/>
<path d="M413.6,152.1 L422.5,155.8" fill="none" stroke="#333" stroke-width="1.03"/>
<path d="M421.8,135.0 L421.8,143.2" fill="none" stroke="#333" stroke-width="1.03"/>
<path d="M425.5,164.7 L429.9,164.7 L429.9,169.9 L425.5,169.9 L425.5,164.7" fill="none" stroke="#333" stroke-width="1.03"/>
<path d="M427.0,179.6 L435.0,173.6" fill="none" stroke="#333" stroke-width="1.03"/>
<path d="M410.6,135.0 L415.1,138.0 L414.4,135.0" fill="none" stroke="#333" stroke-width="1.03"/>
<ellipse cx="437.5" cy="111.8" rx="3.2" ry="2.4" fill="none" stroke="#333" stroke-width="1.03"/>
<ellipse cx="437.5" cy="111.8" rx="1.5" ry="1.1" fill="none" stroke="#333" stroke-width="0.92"/>
<path d="M441.0,110.0 C441.3,109.0 441.8,105.4 443.0,104.0 C444.2,102.6 446.3,101.7 448.0,101.5 C449.7,101.3 451.8,102.1 453.0,103.0 C454.2,103.9 455.3,105.5 455.5,107.0 C455.7,108.5 454.2,111.2 454.0,112.0" fill="none" stroke="#333" stroke-width="1.03" />
<path d="M522.8,102.4 C522.2,101.5 520.3,98.2 519.0,97.0 C517.7,95.8 517.0,96.0 515.0,95.5 C513.0,95.0 510.5,94.3 507.0,93.8 C503.5,93.2 498.5,92.2 494.1,92.2 C489.7,92.2 485.0,92.6 480.5,93.8 C476.0,95.0 471.0,97.5 467.0,99.5 C463.0,101.5 459.8,103.7 456.6,106.0 C453.4,108.3 450.8,110.4 447.9,113.6 C445.0,116.8 441.9,121.0 439.3,124.9 C436.7,128.8 434.3,133.0 432.3,137.0 C430.3,141.0 428.7,144.8 427.1,149.1 C425.6,153.4 424.2,158.2 423.0,163.0 C421.8,167.8 420.9,173.0 420.0,178.0 C419.1,183.0 418.5,188.9 417.5,193.0 C416.5,197.1 415.2,198.6 414.2,202.3 C413.2,206.0 411.9,211.7 411.6,215.3 C411.3,218.9 411.8,221.1 412.5,224.0 C413.2,226.9 414.0,229.9 416.0,232.6 C418.0,235.3 422.7,238.2 424.6,240.4 C426.5,242.6 426.8,244.7 427.2,245.6" fill="none" stroke="#222" stroke-width="1.26" />
<path d="M482.6,96.6 C480.3,97.7 472.8,100.8 468.7,103.0 C464.6,105.2 461.3,107.3 458.3,109.7 C455.3,112.1 453.1,114.2 450.5,117.2 C447.9,120.2 445.1,123.8 442.7,127.6 C440.2,131.3 437.8,135.7 435.8,139.7 C433.8,143.7 432.2,147.6 430.6,151.8 C429.1,156.0 427.7,160.3 426.5,165.0 C425.3,169.7 424.3,175.3 423.5,180.0 C422.7,184.7 422.3,189.3 421.5,193.0 C420.7,196.7 419.4,198.6 418.6,202.3 C417.8,206.0 416.8,211.7 416.8,215.3 C416.8,218.9 417.6,221.1 418.6,224.0 C419.6,226.9 421.6,229.9 422.9,232.6 C424.2,235.3 425.8,239.1 426.4,240.4" fill="none" stroke="#333" stroke-width="1.09" />
<path d="M486.1,200.8 C487.2,198.9 490.4,193.3 492.5,189.6 C494.6,185.8 496.9,182.3 499.0,178.3 C501.1,174.3 503.5,169.7 505.4,165.4 C507.3,161.1 509.0,156.9 510.2,152.6 C511.4,148.3 512.1,144.3 512.6,139.7 C513.1,135.1 513.5,130.0 513.4,125.2 C513.3,120.4 512.9,114.2 511.8,110.7 C510.7,107.2 509.9,105.8 507.0,104.3 C504.1,102.8 497.9,102.3 494.1,101.9 C490.3,101.5 488.1,101.3 484.3,102.0 C480.5,102.7 475.1,104.1 471.3,106.0 C467.6,107.9 464.7,110.8 461.8,113.6 C458.9,116.4 456.3,119.8 454.0,123.1 C451.7,126.4 449.8,129.8 447.9,133.5 C446.0,137.2 444.0,142.0 442.7,145.6 C441.4,149.2 441.1,151.3 440.1,155.0 C439.2,158.7 438.0,163.5 437.0,168.0 C436.0,172.5 434.8,177.3 434.0,182.0 C433.2,186.7 432.6,191.3 432.0,196.0 C431.4,200.7 430.8,207.7 430.5,210.0" fill="none" stroke="#222" stroke-width="1.15" />
<path d="M466.0,114.0 C465.6,114.2 464.5,113.9 463.5,115.3 C462.5,116.7 461.0,119.8 460.0,122.3 C459.0,124.8 458.2,127.3 457.4,130.0 C456.5,132.7 455.8,135.8 454.9,138.7 C454.0,141.6 453.0,144.7 452.3,147.4 C451.6,150.1 451.3,152.1 450.5,155.0 C449.7,157.9 448.5,161.7 447.5,165.0 C446.5,168.3 445.5,171.5 444.5,175.0 C443.5,178.5 442.4,182.5 441.5,186.0 C440.6,189.5 439.4,194.3 439.0,196.0" fill="none" stroke="#2a2a2a" stroke-width="1.15" />
<path d="M456.6,119.7 C455.9,121.8 453.7,128.1 452.5,132.0 C451.3,135.9 450.4,139.7 449.5,143.0 C448.6,146.3 447.9,148.7 447.0,152.0 C446.1,155.3 445.0,159.3 444.0,163.0 C443.0,166.7 442.0,170.2 441.0,174.0 C440.0,177.8 438.5,184.0 438.0,186.0" fill="none" stroke="#555" stroke-width="0.92" />
<path d="M522.8,102.4 C522.8,103.5 523.2,105.2 523.0,109.0 C522.8,112.8 522.0,120.4 521.8,125.2 C521.6,130.0 522.4,134.0 521.8,138.0 C521.2,142.0 519.7,145.3 518.3,149.3 C516.9,153.3 515.0,157.9 513.4,162.2 C511.8,166.5 510.5,171.2 508.6,175.0 C506.7,178.8 504.4,181.5 502.2,184.7 C500.0,187.9 497.8,191.2 495.7,194.4 C493.6,197.6 491.8,201.1 489.3,204.0 C486.9,206.9 482.4,210.7 481.0,212.0" fill="none" stroke="#222" stroke-width="1.15" />
<ellipse cx="483.7" cy="97.0" rx="1.5" ry="2.1" fill="#fff" stroke="#222" stroke-width="1.09"/>
<ellipse cx="494.1" cy="97.0" rx="1.5" ry="2.1" fill="#fff" stroke="#222" stroke-width="1.09"/>
<ellipse cx="505.4" cy="98.7" rx="1.5" ry="2.1" fill="#fff" stroke="#222" stroke-width="1.09"/>
<ellipse cx="517.5" cy="118.8" rx="1.5" ry="2.1" fill="#fff" stroke="#222" stroke-width="1.09"/>
<ellipse cx="517.5" cy="142.9" rx="1.5" ry="2.1" fill="#fff" stroke="#222" stroke-width="1.09"/>
<ellipse cx="459.2" cy="111.9" rx="1.5" ry="2.1" fill="#fff" stroke="#222" stroke-width="1.09"/>
<ellipse cx="438.4" cy="139.6" rx="1.5" ry="2.1" fill="#fff" stroke="#222" stroke-width="1.09"/>
<ellipse cx="445.5" cy="124.0" rx="1.5" ry="2.1" fill="#fff" stroke="#222" stroke-width="1.09"/>
<ellipse cx="429.5" cy="160.0" rx="1.5" ry="2.1" fill="#fff" stroke="#222" stroke-width="1.09"/>
<ellipse cx="426.0" cy="178.0" rx="1.5" ry="2.1" fill="#fff" stroke="#222" stroke-width="1.09"/>
<ellipse cx="511.0" cy="163.0" rx="1.5" ry="2.1" fill="#fff" stroke="#222" stroke-width="1.09"/>
<ellipse cx="500.0" cy="183.0" rx="1.5" ry="2.1" fill="#fff" stroke="#222" stroke-width="1.09"/>
<ellipse cx="422.5" cy="195.0" rx="1.5" ry="2.1" fill="#fff" stroke="#222" stroke-width="1.09"/>
<ellipse cx="489.0" cy="198.0" rx="1.5" ry="2.1" fill="#fff" stroke="#222" stroke-width="1.09"/>
<path d="M471.0,108.4 L505.5,123.0" fill="none" stroke="#2a2a2a" stroke-width="1.49"/>
<path d="M471.5,111.8 L505.0,126.6" fill="none" stroke="#444" stroke-width="1.03"/>
<path d="M505.5,123.0 C505.8,123.2 507.2,123.6 507.5,124.1 C507.8,124.6 507.7,125.7 507.3,126.1 C506.9,126.5 505.4,126.5 505.0,126.6" fill="none" stroke="#333" stroke-width="1.15" />
<path d="M471.0,113.6 L503.0,128.4" fill="none" stroke="#888" stroke-width="0.69"/>
<path d="M465.2,114.9 L505.5,131.9" fill="none" stroke="#2a2a2a" stroke-width="1.49"/>
<path d="M465.7,118.3 L505.0,135.5" fill="none" stroke="#444" stroke-width="1.03"/>
<path d="M505.5,131.9 C505.8,132.1 507.2,132.5 507.5,133.0 C507.8,133.5 507.7,134.6 507.3,135.0 C506.9,135.4 505.4,135.4 505.0,135.5" fill="none" stroke="#333" stroke-width="1.15" />
<path d="M465.2,120.1 L503.0,137.3" fill="none" stroke="#888" stroke-width="0.69"/>
<path d="M461.2,122.4 L504.7,140.7" fill="none" stroke="#2a2a2a" stroke-width="1.49"/>
<path d="M461.7,125.8 L504.2,144.3" fill="none" stroke="#444" stroke-width="1.03"/>
<path d="M504.7,140.7 C505.0,140.9 506.4,141.3 506.7,141.8 C507.0,142.3 506.9,143.4 506.5,143.8 C506.1,144.2 504.6,144.2 504.2,144.3" fill="none" stroke="#333" stroke-width="1.15" />
<path d="M461.2,127.6 L502.2,146.1" fill="none" stroke="#888" stroke-width="0.69"/>
<path d="M457.6,133.2 L502.3,152.0" fill="none" stroke="#2a2a2a" stroke-width="1.49"/>
<path d="M458.1,136.6 L501.8,155.6" fill="none" stroke="#444" stroke-width="1.03"/>
<path d="M502.3,152.0 C502.6,152.2 504.0,152.6 504.3,153.1 C504.6,153.6 504.5,154.7 504.1,155.1 C503.7,155.5 502.2,155.5 501.8,155.6" fill="none" stroke="#333" stroke-width="1.15" />
<path d="M457.6,138.4 L499.8,157.4" fill="none" stroke="#888" stroke-width="0.69"/>
<path d="M454.7,143.2 L498.3,161.6" fill="none" stroke="#2a2a2a" stroke-width="1.49"/>
<path d="M455.2,146.6 L497.8,165.2" fill="none" stroke="#444" stroke-width="1.03"/>
<path d="M498.3,161.6 C498.6,161.8 500.0,162.2 500.3,162.7 C500.6,163.2 500.5,164.3 500.1,164.7 C499.7,165.1 498.2,165.1 497.8,165.2" fill="none" stroke="#333" stroke-width="1.15" />
<path d="M454.7,148.4 L495.8,167.0" fill="none" stroke="#888" stroke-width="0.69"/>
<path d="M451.9,153.8 L493.4,171.3" fill="none" stroke="#2a2a2a" stroke-width="1.49"/>
<path d="M452.4,157.2 L492.9,174.9" fill="none" stroke="#444" stroke-width="1.03"/>
<path d="M493.4,171.3 C493.7,171.5 495.1,171.9 495.4,172.4 C495.7,172.9 495.6,174.0 495.2,174.4 C494.8,174.8 493.3,174.8 492.9,174.9" fill="none" stroke="#333" stroke-width="1.15" />
<path d="M451.9,159.0 L490.9,176.7" fill="none" stroke="#888" stroke-width="0.69"/>
<path d="M449.2,163.0 L487.8,179.3" fill="none" stroke="#2a2a2a" stroke-width="1.49"/>
<path d="M449.7,166.4 L487.3,182.9" fill="none" stroke="#444" stroke-width="1.03"/>
<path d="M487.8,179.3 C488.1,179.5 489.5,179.9 489.8,180.4 C490.1,180.9 490.0,182.0 489.6,182.4 C489.2,182.8 487.7,182.8 487.3,182.9" fill="none" stroke="#333" stroke-width="1.15" />
<path d="M449.2,168.2 L485.3,184.7" fill="none" stroke="#888" stroke-width="0.69"/>
<path d="M445.9,174.0 L481.4,189.0" fill="none" stroke="#2a2a2a" stroke-width="1.49"/>
<path d="M446.4,177.4 L480.9,192.6" fill="none" stroke="#444" stroke-width="1.03"/>
<path d="M481.4,189.0 C481.7,189.2 483.1,189.6 483.4,190.1 C483.7,190.6 483.6,191.7 483.2,192.1 C482.8,192.5 481.3,192.5 480.9,192.6" fill="none" stroke="#333" stroke-width="1.15" />
<path d="M445.9,179.2 L478.9,194.4" fill="none" stroke="#888" stroke-width="0.69"/>
<path d="M443.6,182.2 L474.9,195.4" fill="none" stroke="#2a2a2a" stroke-width="1.49"/>
<path d="M444.1,185.6 L474.4,199.0" fill="none" stroke="#444" stroke-width="1.03"/>
<path d="M474.9,195.4 C475.2,195.6 476.6,196.0 476.9,196.5 C477.2,197.0 477.1,198.1 476.7,198.5 C476.3,198.9 474.8,198.9 474.4,199.0" fill="none" stroke="#333" stroke-width="1.15" />
<path d="M443.6,187.4 L472.4,200.8" fill="none" stroke="#888" stroke-width="0.69"/>
<path d="M437.7,188.5 C439.3,187.8 444.1,184.7 447.2,184.4 C450.2,184.1 453.9,185.6 456.0,186.5 C458.1,187.4 459.1,188.1 459.5,189.9 C459.9,191.7 459.7,195.9 458.1,197.5 C456.5,199.1 452.5,199.2 450.0,199.5 C447.5,199.8 445.2,200.5 443.1,199.4 C441.1,198.3 438.6,194.8 437.7,193.0 C436.8,191.2 437.7,189.2 437.7,188.5" fill="none" stroke="#333" stroke-width="1.03" />
<path d="M445.9,184.4 L445.9,200.7" fill="none" stroke="#444" stroke-width="1.03"/>
<path d="M504.4,172.9 L514.3,169.9 L516.3,172.9" fill="none" stroke="#333" stroke-width="1.03"/>
<path d="M502.4,185.7 L502.4,201.6" fill="none" stroke="#333" stroke-width="1.03"/>
<path d="M504.4,185.7 L504.4,201.6" fill="none" stroke="#333" stroke-width="1.03"/>
<path d="M504.4,192.7 L514.3,188.7 L522.2,189.7" fill="none" stroke="#333" stroke-width="1.03"/>
<path d="M504.4,202.6 L514.3,198.6 L522.2,192.7" fill="none" stroke="#333" stroke-width="1.03"/>
<path d="M514.3,172.9 L514.3,187.7" fill="none" stroke="#333" stroke-width="1.03"/>
<path d="M445.0,231.3 L454.9,227.3 L469.8,219.4 L480.6,212.5" fill="none" stroke="#333" stroke-width="1.03"/>
<path d="M456.9,201.6 L464.8,199.6 L474.7,201.6 L480.6,203.6" fill="none" stroke="#333" stroke-width="1.03"/>
<path d="M457.9,214.5 L464.8,212.5 L470.7,215.4 L471.7,221.4" fill="none" stroke="#333" stroke-width="1.03"/>
<path d="M445.0,219.4 L454.9,215.4 L460.8,217.4" fill="none" stroke="#333" stroke-width="1.03"/>
<path d="M488.6,201.6 L488.6,211.5" fill="none" stroke="#333" stroke-width="1.03"/>
<path d="M484.6,211.5 L492.5,207.5 L500.4,203.6" fill="none" stroke="#333" stroke-width="1.03"/>
<ellipse cx="454.9" cy="228.3" rx="3" ry="3" fill="none" stroke="#222" stroke-width="1.15"/>
<ellipse cx="471.7" cy="219.4" rx="2" ry="3" fill="none" stroke="#222" stroke-width="1.15"/>
<path d="M390.0,228.3 L398.7,233.5 L407.3,238.7 L416.0,242.1 L424.6,243.9 L428.1,244.7" fill="none" stroke="#333" stroke-width="1.03"/>
<path d="M406.5,235.2 L407.3,231.8 L410.8,230.0 L414.2,230.9 L416.0,234.4 L416.0,244.7" fill="none" stroke="#333" stroke-width="1.03"/>
<path d="M406.5,235.2 L406.5,243.9" fill="none" stroke="#333" stroke-width="1.03"/>
<path d="M406.5,235.2 L416.0,235.2" fill="none" stroke="#333" stroke-width="1.03"/>
<path d="M390.0,215.3 L392.6,219.6 L392.6,228.3" fill="none" stroke="#333" stroke-width="1.03"/>
<path d="M390.0,191.9 L398.7,198.9 L407.3,207.5 L410.8,213.6" fill="none" stroke="#333" stroke-width="1.03"/>
<path d="M390.0,197.1 L395.2,202.3 L402.1,211.0 L407.3,214.4" fill="none" stroke="#333" stroke-width="1.03"/>
<path d="M398.7,185.0 L398.7,198.0" fill="none" stroke="#333" stroke-width="1.03"/>
<path d="M401.3,187.6 L411.6,195.4" fill="none" stroke="#333" stroke-width="1.03"/>
<path d="M402.1,193.7 L411.6,200.6" fill="none" stroke="#333" stroke-width="1.03"/>
<path d="M402.1,204.9 L410.8,211.8" fill="none" stroke="#333" stroke-width="1.03"/>
<path d="M424.6,186.7 L433.3,191.9 L441.9,198.0 L450.0,202.3" fill="none" stroke="#333" stroke-width="1.03"/>
<path d="M422.9,191.9 L433.3,198.0 L441.9,203.2 L450.0,206.6" fill="none" stroke="#333" stroke-width="1.03"/>
<path d="M426.4,207.5 L450.0,208.4" fill="none" stroke="#333" stroke-width="1.03"/>
<path d="M438.5,188.5 L441.9,186.7 L450.0,186.7" fill="none" stroke="#333" stroke-width="1.03"/>
<path d="M438.5,188.5 L438.5,191.9 L445.4,194.5 L450.0,193.7" fill="none" stroke="#333" stroke-width="1.03"/>
<path d="M443.7,221.4 L448.9,217.9 L450.0,217.9" fill="none" stroke="#333" stroke-width="1.03"/>
<path d="M443.7,221.4 L443.7,224.8 L433.3,230.9 L431.6,236.1 L437.6,237.8 L450.0,233.5" fill="none" stroke="#333" stroke-width="1.03"/>
<ellipse cx="419.0" cy="230.0" rx="4" ry="4" fill="#fff" stroke="#222" stroke-width="1.26"/>
<ellipse cx="419.0" cy="230.0" rx="2" ry="2" fill="none" stroke="#333" stroke-width="1.03"/>
<ellipse cx="432.4" cy="242.1" rx="1.8" ry="2.6" fill="none" stroke="#222" stroke-width="1.03"/>
<ellipse cx="421.5" cy="200.0" rx="2.5" ry="4.5" fill="none" stroke="#222" stroke-width="1.84"/>

<g fill="#fff" stroke="#111" stroke-width="1.5" stroke-linejoin="round">
<path d="M594.9,25 L594.9,34.5 Q595.5,36.4 598,36.4 L601,36.4 Q603,36.4 603,34.5 L603,25 Z"/>
<path d="M587.8,28.6 L587.8,21 Q588.3,19 590.4,18.9 L591.5,17.4 L594.9,15.6 L596.4,14.8 L598.6,15.9 L602.7,17.8 L604.5,19.7 L605.6,21.9 L604.5,24.1 L603,25.2 L593.4,25.2 L593.4,28.6 Z"/>
<path d="M588.5,21 L593.4,21.3 L593.4,25.2" fill="none" stroke-width="1"/>
<path d="M596.6,16.5 L597.2,20.8" fill="none" stroke-width="1.6"/>
</g>
<path d="M600,24.9 L613,25.7 L626.5,28.6" fill="none" stroke="#222" stroke-width="1.1"/>
<g fill="#fff" stroke="#111" stroke-width="1.5" stroke-linejoin="round">
<path d="M594.2,71.5 L594.2,76 Q594.5,77.6 597,77.6 L601,77.6 Q603.7,77.6 603.7,76 L603.7,71.5 Z"/>
<path d="M595.5,75.3 L602.5,75.3" stroke="#999" stroke-width="1"/>
<path d="M593.3,68 Q593.5,65.5 596,65.5 L602,65.5 Q604.6,65.5 604.6,68 L604.6,70.5 Q604.4,72 602,72 L596,72 Q593.3,72 593.3,70 Z"/>
</g>
<path d="M598.4,58 V67.5" stroke="#444" stroke-width="0.9"/>
<g stroke="#222" stroke-width="1.1">
<path d="M337.5,249.5 L337.5,255.5 Q345.5,261 353.7,255.5 L353.7,249.5" fill="#555"/>
<ellipse cx="345.6" cy="249.6" rx="8.1" ry="3.4" fill="#fff"/>
<ellipse cx="345.6" cy="250.6" rx="5" ry="1.8" fill="#fff"/>
</g>
<g stroke="#111" stroke-width="1.6" fill="#fff" stroke-linejoin="round">
<path d="M407,571.7 Q408,569.5 410,568.5 L418,564.6 Q420,564 422,565 L432,570.5 Q434,572 432.5,573.5 L422,580.5 Q420,581.6 418,580.8 L409,574.5 Q407,573.2 407,571.7 Z"/>
<path d="M421,578.5 L431,571.5" stroke-width="0.8" fill="none"/>
</g>
<g stroke="#111" stroke-width="1.4">
<path d="M460.4,731.3 L460.4,733 Q467.6,738.5 474.8,733 L474.8,731.3" fill="#999"/>
<ellipse cx="467.6" cy="731.2" rx="7.2" ry="3.9" fill="#ccc"/>
<ellipse cx="467.6" cy="730.7" rx="3.6" ry="1.7" fill="#fff" stroke-width="1.1"/>
</g>
<g stroke="#111" stroke-width="1.3" fill="#fff">
<path d="M459.2,763 L459.2,765.5 Q467,771 474.9,765.5 L474.9,763" fill="#888"/>
<ellipse cx="467" cy="762.5" rx="7.8" ry="4.2" fill="#d0d0d0"/>
<path d="M465,761.5 L465,750 Q467.8,747 470.8,750 L470.8,761.5 Z" fill="#e8e8e8"/>
<path d="M465,752 h5.8 M465,754.5 h5.8 M465,757 h5.8 M465,759.5 h5.8" stroke-width="0.7" stroke="#555"/>
</g>
<g stroke="#222" stroke-width="1.1" fill="#fff">
<path d="M288.6,737 L288.6,740 Q293,743.5 297.7,740 L297.7,737" fill="#999"/>
<ellipse cx="293.1" cy="736.8" rx="4.6" ry="2.6"/>
<path d="M291,735.5 L291,729 Q293,727.5 295.2,729 L295.2,735.5 Z"/>
<path d="M291,731 h4.2 M291,733 h4.2" stroke-width="0.7"/>
</g>

<path d="M384.0,390.0 C385.3,389.8 383.2,393.5 392.0,388.5 C400.8,383.5 428.8,365.4 437.0,360.0 C445.2,354.6 440.3,356.7 441.0,356.0" fill="none" stroke="#111" stroke-width="1.5"/>
<path d="M379,387 L380.5,390.2 Q386,392 392,389.5 L393.5,386.5" fill="#fff" stroke="#222" stroke-width="1.2"/>
<path d="M352.0,303.5 C362.5,305.8 381.7,319.2 396.0,327.0 C410.3,334.8 430.4,345.9 438.0,350.5 C445.6,355.1 441.5,353.2 441.5,354.5 C441.5,355.8 446.2,352.9 438.0,358.0 C429.8,363.1 401.5,380.1 392.5,385.0 C383.5,389.9 386.6,387.5 384.0,387.5 C381.4,387.5 389.8,392.1 377.0,385.0 C364.2,377.9 319.7,352.7 307.0,345.0 C294.3,337.3 301.9,341.0 301.0,339.0 C300.1,337.0 300.3,335.0 301.5,333.0 C302.7,331.0 302.8,330.3 308.0,327.0 C313.2,323.7 325.7,316.9 333.0,313.0 C340.3,309.1 341.5,301.2 352.0,303.5 Z" fill="#fff" stroke="#111" stroke-width="1.6"/>
<path d="M351.9,307.6 334.7,316.2 310.1,329.9 305.0,334.7 304.7,337.6 309.2,342.1 378.5,381.7 384.1,383.7 391.1,381.7 435.8,355.1 436.6,354.3 435.7,353.3 394.3,330.2 351.9,307.6Z" fill="none" stroke="#8a8a8a" stroke-width="0.9"/>
<path d="M351.9,310.8 336.0,318.7 311.8,332.3 307.8,336.1 307.7,336.5 311.0,339.8 379.7,379.1 384.2,380.7 389.9,379.0 431.5,354.3 392.9,332.7 351.9,310.8Z" fill="none" stroke="#b0b0b0" stroke-width="0.8"/>
<path d="M389,383 L430,357" fill="none" stroke="#777" stroke-width="1" stroke-dasharray="2,1.2"/>
<path d="M368,362 L413,338.5 M352,355 Q365,360 372,368 L385,380 M367,362 L406,381" fill="none" stroke="#666" stroke-width="0.8"/>
<path d="M333,345 L341,340 L351,346 Q353,349 351,351 L344,356 Q342,357 340,356 L333,351 Q331,348 333,345 Z" fill="none" stroke="#555" stroke-width="0.9"/>
<path d="M336,344 L341,342 L348,346 L343,350 Z" fill="none" stroke="#888" stroke-width="0.7"/>
<path d="M311,331 Q315,328 318,332 Q319,337 315,339 Q311,339 311,335 Z M319,336 L324,340 L322,344 L317,341" fill="none" stroke="#777" stroke-width="0.9"/>
<ellipse cx="325.7" cy="324.2" rx="2.3" ry="1.8" fill="#fff" stroke="#1a1a1a" stroke-width="1.2"/>
<ellipse cx="347.3" cy="325.4" rx="2.4" ry="1.6" fill="#fff" stroke="#1a1a1a" stroke-width="1.2"/>
<ellipse cx="332.2" cy="331.8" rx="3.4" ry="1.8" fill="#fff" stroke="#1a1a1a" stroke-width="1.2"/>
<ellipse cx="360.2" cy="332.2" rx="2.4" ry="1.5" fill="#fff" stroke="#1a1a1a" stroke-width="1.2"/>
<ellipse cx="373.2" cy="340.2" rx="2.4" ry="1.5" fill="#fff" stroke="#1a1a1a" stroke-width="1.2"/>
<ellipse cx="420.6" cy="351.4" rx="2.6" ry="2" fill="#555" stroke="#222" stroke-width="0.9"/>
<path d="M361.6,314.2 L377,315.2 L380,317 M360.5,318.8 L385,320.2 M361.6,314.2 Q358.5,316.5 360.5,318.8 M362.5,314.5 Q364,316.8 362,318.8" fill="none" stroke="#1a1a1a" stroke-width="1.2"/>
<path d="M337.9,282 L333.2,311.8 Q345.5,318.6 357.6,311.3 L351.7,282 Z" fill="#fff" stroke="#111" stroke-width="1.3"/>
<path d="M334,310 Q345.5,305 357,309.5" fill="none" stroke="#999" stroke-width="0.8"/>
<path d="M338.4,276.5 L338.4,282 Q345,284.6 351.4,282 L351.4,276.5 Z" fill="#fff" stroke="#111" stroke-width="1.2"/>
<path d="M340,279.5 L350,279.5 M342,281 L344,281 M346,281 L349,281" fill="none" stroke="#555" stroke-width="0.9"/>
<path d="M338.4,269 L338.4,276.5 Q345,279 351.7,276.5 L351.7,269 Z" fill="#fff" stroke="#111" stroke-width="1.3"/>
<path d="M338.6,274.8 Q345,277.4 351.5,274.8" fill="none" stroke="#222" stroke-width="2.2"/>
<path d="M340,271.5 Q345,273.5 350,271.5" fill="none" stroke="#888" stroke-width="0.8"/>
<ellipse cx="345.6" cy="268.8" rx="6.6" ry="2.3" fill="#fff" stroke="#111" stroke-width="1.1"/>
<path d="M346,262.4 V267.5" stroke="#666" stroke-width="1.2"/>
<path d="M342.3,264.9 L340,267.8 M338.4,276.3 L334,277.2 Q331.9,278 331.9,280 L331.9,290.2 L335.6,290.6 L335.6,278.6" fill="none" stroke="#111" stroke-width="1.2"/>
<circle cx="342.3" cy="264.9" r="0.9" fill="#111"/>
<path d="M393.0,407.6 C396.8,407.0 401.0,408.3 404.0,408.8 C407.0,409.3 408.2,409.6 411.0,410.8 C413.8,412.0 416.6,412.8 420.5,416.0 C424.4,419.2 425.4,424.1 434.5,430.2 C443.6,436.3 462.2,445.7 475.0,452.8 C487.8,459.9 504.1,469.1 511.0,473.0 C517.9,476.9 515.8,474.9 516.2,476.3 C516.6,477.7 519.0,477.7 513.5,481.5 C508.1,485.3 494.8,492.4 483.5,499.0 C472.2,505.6 454.6,515.9 446.0,521.0 C437.4,526.1 435.7,527.8 432.0,529.6 C428.3,531.4 426.7,531.2 424.0,531.6 C421.3,532.0 418.2,532.1 416.0,531.9 C413.8,531.7 413.0,531.4 411.0,530.3 C409.0,529.2 407.8,528.1 404.0,525.5 C400.2,522.9 393.4,518.0 388.1,514.9 C382.9,511.8 376.5,508.8 372.5,506.8 C368.5,504.8 369.4,504.1 364.3,502.7 C359.2,501.3 347.2,500.2 341.6,498.6 C336.1,497.0 334.9,495.2 331.0,493.2 C327.1,491.2 323.2,489.0 318.0,486.8 C312.8,484.6 304.1,482.0 300.0,480.0 C295.9,478.0 295.1,477.1 293.5,475.0 C291.9,472.9 289.8,469.3 290.6,467.2 C291.4,465.1 293.3,465.5 298.5,462.2 C303.7,458.9 311.6,453.6 322.0,447.3 C332.4,441.0 351.1,430.1 361.0,424.2 C370.9,418.3 376.2,415.0 381.5,412.2 C386.8,409.4 389.2,408.2 393.0,407.6 Z" fill="none" stroke="#151515" stroke-width="6.6" stroke-linejoin="round"/>
<ellipse cx="393.8" cy="407.6" rx="4.4" ry="3.4" fill="#fff" stroke="#1e1e1e" stroke-width="1.1"/>
<ellipse cx="360.7" cy="424.5" rx="4.4" ry="3.4" fill="#fff" stroke="#1e1e1e" stroke-width="1.1"/>
<ellipse cx="320.8" cy="447.8" rx="4.4" ry="3.4" fill="#fff" stroke="#1e1e1e" stroke-width="1.1"/>
<ellipse cx="292.5" cy="466.5" rx="4.4" ry="3.4" fill="#fff" stroke="#1e1e1e" stroke-width="1.1"/>
<ellipse cx="331" cy="493" rx="4.4" ry="3.4" fill="#fff" stroke="#1e1e1e" stroke-width="1.1"/>
<ellipse cx="369.5" cy="505.5" rx="4.4" ry="3.4" fill="#fff" stroke="#1e1e1e" stroke-width="1.1"/>
<ellipse cx="409.8" cy="529.2" rx="4.4" ry="3.4" fill="#fff" stroke="#1e1e1e" stroke-width="1.1"/>
<ellipse cx="446.9" cy="520.2" rx="4.4" ry="3.4" fill="#fff" stroke="#1e1e1e" stroke-width="1.1"/>
<ellipse cx="483.9" cy="498.2" rx="4.4" ry="3.4" fill="#fff" stroke="#1e1e1e" stroke-width="1.1"/>
<ellipse cx="515.6" cy="476" rx="4.4" ry="3.4" fill="#fff" stroke="#1e1e1e" stroke-width="1.1"/>
<ellipse cx="477" cy="452.5" rx="4.4" ry="3.4" fill="#fff" stroke="#1e1e1e" stroke-width="1.1"/>
<ellipse cx="438.5" cy="431" rx="4.4" ry="3.4" fill="#fff" stroke="#1e1e1e" stroke-width="1.1"/>
<path d="M393.0,407.6 C396.8,407.0 401.0,408.3 404.0,408.8 C407.0,409.3 408.2,409.6 411.0,410.8 C413.8,412.0 416.6,412.8 420.5,416.0 C424.4,419.2 425.4,424.1 434.5,430.2 C443.6,436.3 462.2,445.7 475.0,452.8 C487.8,459.9 504.1,469.1 511.0,473.0 C517.9,476.9 515.8,474.9 516.2,476.3 C516.6,477.7 519.0,477.7 513.5,481.5 C508.1,485.3 494.8,492.4 483.5,499.0 C472.2,505.6 454.6,515.9 446.0,521.0 C437.4,526.1 435.7,527.8 432.0,529.6 C428.3,531.4 426.7,531.2 424.0,531.6 C421.3,532.0 418.2,532.1 416.0,531.9 C413.8,531.7 413.0,531.4 411.0,530.3 C409.0,529.2 407.8,528.1 404.0,525.5 C400.2,522.9 393.4,518.0 388.1,514.9 C382.9,511.8 376.5,508.8 372.5,506.8 C368.5,504.8 369.4,504.1 364.3,502.7 C359.2,501.3 347.2,500.2 341.6,498.6 C336.1,497.0 334.9,495.2 331.0,493.2 C327.1,491.2 323.2,489.0 318.0,486.8 C312.8,484.6 304.1,482.0 300.0,480.0 C295.9,478.0 295.1,477.1 293.5,475.0 C291.9,472.9 289.8,469.3 290.6,467.2 C291.4,465.1 293.3,465.5 298.5,462.2 C303.7,458.9 311.6,453.6 322.0,447.3 C332.4,441.0 351.1,430.1 361.0,424.2 C370.9,418.3 376.2,415.0 381.5,412.2 C386.8,409.4 389.2,408.2 393.0,407.6 Z" fill="none" stroke="#fff" stroke-width="4.1" stroke-linejoin="round"/>
<ellipse cx="393.8" cy="407.6" rx="1.7" ry="1.2" fill="#fff" stroke="#333" stroke-width="1.1"/>
<ellipse cx="360.7" cy="424.5" rx="1.7" ry="1.2" fill="#fff" stroke="#333" stroke-width="1.1"/>
<ellipse cx="320.8" cy="447.8" rx="1.7" ry="1.2" fill="#fff" stroke="#333" stroke-width="1.1"/>
<ellipse cx="292.5" cy="466.5" rx="1.7" ry="1.2" fill="#fff" stroke="#333" stroke-width="1.1"/>
<ellipse cx="331" cy="493" rx="1.7" ry="1.2" fill="#fff" stroke="#333" stroke-width="1.1"/>
<ellipse cx="369.5" cy="505.5" rx="1.7" ry="1.2" fill="#fff" stroke="#333" stroke-width="1.1"/>
<ellipse cx="409.8" cy="529.2" rx="1.7" ry="1.2" fill="#fff" stroke="#333" stroke-width="1.1"/>
<ellipse cx="446.9" cy="520.2" rx="1.7" ry="1.2" fill="#fff" stroke="#333" stroke-width="1.1"/>
<ellipse cx="483.9" cy="498.2" rx="1.7" ry="1.2" fill="#fff" stroke="#333" stroke-width="1.1"/>
<ellipse cx="515.6" cy="476" rx="1.7" ry="1.2" fill="#fff" stroke="#333" stroke-width="1.1"/>
<ellipse cx="477" cy="452.5" rx="1.7" ry="1.2" fill="#fff" stroke="#333" stroke-width="1.1"/>
<ellipse cx="438.5" cy="431" rx="1.7" ry="1.2" fill="#fff" stroke="#333" stroke-width="1.1"/>
<path d="M289.2,664.0 C290.1,665.2 292.5,669.0 294.4,671.0 C296.3,673.0 299.4,672.8 300.5,676.0 C301.6,679.2 300.7,687.1 300.8,690.0 C300.9,692.9 300.6,692.0 301.3,693.5 C302.0,695.0 303.4,697.4 304.8,698.7 C306.2,700.0 307.7,700.6 310.0,701.3 C312.3,702.0 315.1,702.0 318.7,703.0 C322.3,704.0 327.2,705.5 331.6,707.4 C336.0,709.3 341.3,712.8 345.0,714.2 C348.7,715.6 350.1,715.4 353.7,715.9 C357.3,716.4 362.7,716.8 366.7,717.2 C370.7,717.6 375.2,717.7 377.9,718.5 C380.6,719.3 380.7,720.5 383.1,722.0 C385.6,723.5 389.6,725.8 392.6,727.2 C395.6,728.6 397.6,728.9 401.3,730.6 C405.0,732.3 411.9,736.3 415.0,737.6 C418.1,738.9 417.8,738.6 420.0,738.4 C422.2,738.2 424.4,737.9 428.4,736.5 C432.3,735.1 437.8,733.4 443.7,729.8 C449.6,726.1 457.6,718.6 463.6,714.6 C469.7,710.6 475.6,708.0 480.0,705.5 C484.4,703.0 486.5,701.3 489.7,699.3 C492.9,697.3 497.0,695.1 499.3,693.5 C501.6,691.9 502.7,690.8 503.6,689.4 C504.5,688.0 504.4,686.1 504.6,685.4" fill="#fff" stroke="#111" stroke-width="1.3"/>
<path d="M308.3,679 L308.6,701" stroke="#777" stroke-width="0.9"/>
<path d="M330.8,689 L331.1,706" stroke="#777" stroke-width="0.9"/>
<path d="M337.7,693 L338.0,708" stroke="#777" stroke-width="0.9"/>
<path d="M352.8,697 L353.1,714" stroke="#777" stroke-width="0.9"/>
<path d="M364.9,700 L365.2,716" stroke="#777" stroke-width="0.9"/>
<path d="M378.8,707 L379.1,718" stroke="#777" stroke-width="0.9"/>
<path d="M382.3,710 L382.6,720" stroke="#777" stroke-width="0.9"/>
<path d="M398,718 L398.3,729" stroke="#777" stroke-width="0.9"/>
<path d="M303,690 Q320,694 330,699 M340,702 Q360,708 375,712 M379.7,710.7 L390,719.4 L401.3,726.3 L415,730.6 M430,731 L460,716 L485,702" fill="none" stroke="#888" stroke-width="0.8"/>
<path d="M392.4,594.9 C394.3,594.8 396.9,594.8 400.0,595.4 C403.1,596.0 408.4,597.5 411.1,598.4 C413.8,599.3 414.6,599.8 416.3,600.6 C418.0,601.4 419.9,601.9 421.5,603.0 C423.1,604.1 424.4,605.7 426.0,607.0 C427.6,608.3 429.3,609.8 431.2,611.0 C433.1,612.2 434.2,612.6 437.1,614.2 C440.0,615.8 444.5,618.3 448.3,620.6 C452.1,622.9 455.0,625.1 460.0,628.1 C465.0,631.1 473.4,635.7 478.3,638.5 C483.2,641.3 484.5,642.0 489.7,644.9 C494.9,647.8 504.6,652.7 509.5,655.7 C514.5,658.7 517.2,660.7 519.4,662.7 C521.5,664.7 521.9,666.1 522.4,667.6 C522.9,669.1 522.9,670.1 522.4,671.6 C521.9,673.1 522.4,674.2 519.4,676.5 C516.4,678.8 510.4,681.9 504.6,685.4 C498.8,688.9 492.2,693.0 484.8,697.3 C477.4,701.6 466.9,707.4 460.0,711.4 C453.1,715.4 448.3,719.1 443.7,721.4 C439.1,723.7 436.1,724.2 432.1,725.3 C428.2,726.4 422.9,727.7 420.0,728.1 C417.1,728.5 416.2,728.0 414.5,727.5 C412.8,727.0 411.5,726.3 410.0,725.4 C408.5,724.5 407.8,723.3 405.6,722.0 C403.4,720.7 399.9,719.2 397.0,717.6 C394.1,716.0 391.2,714.1 388.3,712.4 C385.4,710.7 382.6,708.9 379.7,707.3 C376.8,705.7 373.9,704.2 371.0,702.9 C368.1,701.6 365.2,700.5 362.3,699.5 C359.4,698.5 356.6,697.5 353.7,696.9 C350.8,696.3 347.6,696.7 344.6,696.1 C341.7,695.5 338.6,694.6 336.0,693.5 C333.4,692.4 331.6,690.6 329.0,689.2 C326.4,687.8 323.6,686.5 320.4,684.9 C317.2,683.3 313.2,681.3 310.0,679.7 C306.8,678.1 303.9,676.8 301.3,675.3 C298.7,673.8 296.4,672.9 294.4,671.0 C292.4,669.1 290.5,665.9 289.2,664.0 C287.9,662.1 287.2,661.1 286.8,659.7 C286.4,658.3 286.3,656.9 286.8,655.5 C287.3,654.1 288.6,652.7 290.0,651.5 C291.4,650.3 290.2,651.0 295.0,648.3 C299.8,645.5 307.7,641.2 318.9,635.0 C330.1,628.8 351.9,616.8 362.4,611.0 C372.8,605.2 377.2,602.5 381.6,600.0 C386.0,597.5 386.7,597.1 388.5,596.3 C390.3,595.4 390.5,595.0 392.4,594.9 Z" fill="#fff" stroke="#111" stroke-width="1.35"/>
<path d="M392.0,604.5 C394.0,604.0 397.2,604.2 400.0,604.3 C402.8,604.4 406.5,604.5 409.0,605.0 C411.5,605.5 412.7,605.8 414.9,607.3 C417.1,608.8 419.8,612.1 422.3,614.0 C424.8,615.9 426.8,616.6 429.7,618.4 C432.6,620.1 433.3,620.6 440.0,624.5 C446.7,628.4 461.0,636.5 470.0,641.5 C479.0,646.5 488.5,651.4 494.0,654.5 C499.5,657.6 500.8,658.3 503.0,660.0 C505.2,661.7 506.4,663.1 507.0,664.5 C507.6,665.9 507.2,666.8 506.5,668.5 C505.8,670.2 507.1,671.6 502.6,674.6 C498.2,677.6 486.9,682.6 479.8,686.4 C472.7,690.2 468.1,692.7 460.0,697.4 C451.9,702.1 438.0,711.4 431.2,714.7 C424.4,718.0 421.9,716.9 419.0,717.2 C416.1,717.5 416.2,717.3 414.0,716.5 C411.8,715.7 409.2,714.4 405.6,712.4 C402.0,710.4 396.9,707.4 392.6,704.7 C388.3,702.0 383.3,698.2 379.7,696.0 C376.1,693.8 374.6,692.9 371.0,691.7 C367.4,690.6 362.3,689.8 358.0,689.1 C353.7,688.4 347.9,688.0 345.0,687.3 C342.1,686.6 342.5,686.3 340.3,684.9 C338.1,683.5 334.5,680.5 331.6,678.8 C328.7,677.1 325.9,675.6 323.0,674.5 C320.1,673.4 317.2,672.9 314.3,671.9 C311.4,670.9 307.9,669.5 305.7,668.4 C303.4,667.2 301.8,666.3 300.8,665.0 C299.9,663.7 299.6,662.1 300.0,660.6 C300.4,659.1 301.3,657.8 303.0,656.3 C304.7,654.8 307.2,653.4 310.0,651.9 C312.8,650.4 315.5,649.2 319.8,647.0 C324.1,644.8 331.3,641.1 335.8,638.5 C340.3,635.9 343.5,633.6 347.0,631.5 C350.5,629.4 353.2,628.0 356.9,626.0 C360.6,624.0 365.2,622.1 369.3,619.8 C373.4,617.5 378.5,614.1 381.6,612.0 C384.7,609.9 386.3,608.2 388.0,607.0 C389.7,605.8 390.0,605.0 392.0,604.5 Z" fill="#fff" stroke="#555" stroke-width="1.0"/>
<path d="M503.0,660.0 C503.7,660.8 506.4,663.1 507.0,664.5 C507.6,665.9 507.2,666.8 506.5,668.5 C505.8,670.2 507.1,671.6 502.6,674.6 C498.2,677.6 486.9,682.6 479.8,686.4 C472.7,690.2 468.1,692.7 460.0,697.4 C451.9,702.1 438.0,711.4 431.2,714.7 C424.4,718.0 421.9,716.9 419.0,717.2 C416.1,717.5 416.2,717.3 414.0,716.5 C411.8,715.7 409.2,714.4 405.6,712.4 C402.0,710.4 396.9,707.4 392.6,704.7 C388.3,702.0 383.3,698.2 379.7,696.0 C376.1,693.8 374.6,692.9 371.0,691.7 C367.4,690.6 362.3,689.8 358.0,689.1 C353.7,688.4 347.9,688.0 345.0,687.3 C342.1,686.6 342.5,686.3 340.3,684.9 C338.1,683.5 334.5,680.5 331.6,678.8 C328.7,677.1 325.9,675.6 323.0,674.5 C320.1,673.4 317.2,672.9 314.3,671.9 C311.4,670.9 307.9,669.5 305.7,668.4 C303.4,667.2 301.8,666.3 300.8,665.0 C299.9,663.7 299.6,662.1 300.0,660.6 C300.4,659.1 302.5,657.0 303.0,656.3" fill="none" stroke="#1a1a1a" stroke-width="1.2"/>
<path d="M390.8,602.6 386.8,605.1 386.6,605.3 380.3,610.2 368.2,617.9 355.9,624.0 355.8,624.1 345.9,629.6 345.8,629.6 334.7,636.6 318.8,645.0 309.0,649.9 308.8,650.0 301.8,654.4 301.6,654.6 301.5,654.7 301.3,654.9 301.2,655.0 298.2,659.3 298.1,659.5 298.0,659.7 297.9,659.9 297.9,660.1 297.8,660.3 297.8,660.6 297.8,660.8 297.8,661.0 298.6,665.4 298.7,665.6 298.8,665.8 298.8,666.0 299.0,666.2 299.1,666.4 299.2,666.5 299.4,666.7 299.5,666.8 304.4,670.2 304.7,670.3 304.9,670.4 313.5,673.9 313.7,674.0 322.2,676.6 330.5,680.7 339.0,686.7 339.3,686.9 344.0,689.3 344.2,689.4 344.5,689.4 344.7,689.5 357.6,691.3 370.3,693.8 378.6,697.9 391.4,706.5 391.5,706.6 404.5,714.3 404.6,714.4 413.0,718.5 413.2,718.6 413.5,718.6 413.7,718.7 418.7,719.4 418.9,719.4 419.2,719.4 419.4,719.4 431.6,716.9 431.9,716.8 432.1,716.7 432.3,716.6 461.1,699.3 480.8,688.3 503.6,676.6 503.8,676.4 504.0,676.3 504.2,676.1 504.3,676.0 504.5,675.8 508.4,669.7 508.5,669.5 508.5,669.3 508.6,669.2 508.7,669.0 508.7,668.8 509.2,664.8 509.2,664.6 509.2,664.4 509.2,664.2 509.1,663.9 509.1,663.7 509.0,663.6 508.9,663.4 508.8,663.2 508.6,663.0 504.6,658.5 504.5,658.4 504.3,658.2 504.1,658.1 495.1,652.6 495.0,652.6 471.1,639.6 441.1,622.6 430.8,616.5 423.6,612.2 416.4,605.7 416.2,605.5 416.1,605.4 415.9,605.3 415.7,605.3 409.8,603.0 409.6,602.9 409.4,602.8 409.2,602.8 400.2,602.1 399.9,602.1 391.9,602.3 391.7,602.3 391.5,602.4 391.3,602.4 391.0,602.5 390.8,602.6Z" fill="none" stroke="#aaa" stroke-width="0.7"/>
<path d="M393.1,599.6 390.4,600.5 383.8,604.0 364.7,615.0 364.6,615.0 321.1,639.0 297.4,652.3 293.1,655.0 291.4,657.1 291.4,658.5 293.1,661.5 297.6,667.6 303.6,671.3 312.1,675.6 322.5,680.8 331.1,685.1 331.4,685.3 337.9,689.3 345.5,691.6 354.1,692.3 354.6,692.4 355.0,692.5 363.6,695.1 364.0,695.2 372.7,698.6 373.1,698.8 381.8,703.2 382.0,703.3 390.6,708.4 390.7,708.5 399.2,713.6 407.7,717.9 408.1,718.1 408.4,718.4 412.4,721.4 415.8,723.0 419.7,723.4 430.8,720.9 441.7,717.2 457.6,707.5 457.7,707.4 482.5,693.3 502.2,681.5 516.1,673.1 517.8,670.3 517.8,668.9 516.0,665.9 507.1,659.6 487.5,648.9 487.4,648.9 476.0,642.5 476.0,642.5 457.7,632.1 457.5,632.0 445.9,624.5 434.9,618.2 429.0,615.0 428.7,614.9 428.4,614.6 423.2,610.6 422.9,610.4 419.0,606.9 414.4,604.8 409.6,602.8 399.2,600.0 393.1,599.6Z" fill="none" stroke="#9a9a9a" stroke-width="0.8"/>
<ellipse cx="394.5" cy="599.5" rx="2" ry="1.5" fill="#777" stroke="#111" stroke-width="1.1"/>
<ellipse cx="361" cy="616" rx="2" ry="1.5" fill="#777" stroke="#111" stroke-width="1.1"/>
<ellipse cx="320" cy="638.8" rx="2" ry="1.5" fill="#777" stroke="#111" stroke-width="1.1"/>
<ellipse cx="292.3" cy="656.3" rx="2" ry="1.5" fill="#777" stroke="#111" stroke-width="1.1"/>
<ellipse cx="329.9" cy="682.3" rx="2" ry="1.5" fill="#777" stroke="#111" stroke-width="1.1"/>
<ellipse cx="369.3" cy="696.9" rx="2" ry="1.5" fill="#777" stroke="#111" stroke-width="1.1"/>
<ellipse cx="411.7" cy="719.4" rx="2" ry="1.5" fill="#777" stroke="#111" stroke-width="1.1"/>
<ellipse cx="447" cy="710.5" rx="2" ry="1.5" fill="#777" stroke="#111" stroke-width="1.1"/>
<ellipse cx="483.8" cy="691" rx="2" ry="1.5" fill="#777" stroke="#111" stroke-width="1.1"/>
<ellipse cx="516" cy="667" rx="2" ry="1.5" fill="#777" stroke="#111" stroke-width="1.1"/>
<ellipse cx="477.8" cy="643" rx="2" ry="1.5" fill="#777" stroke="#111" stroke-width="1.1"/>
<ellipse cx="438.6" cy="619.9" rx="2" ry="1.5" fill="#777" stroke="#111" stroke-width="1.1"/>
<path d="M388.5,610 L388.5,632.5 M415.6,609.7 L415.6,632.7 M380,639.4 L389.7,633 M432,624.5 L432.5,650 M433.7,648.7 L502,676.4 M424,663.4 L477.7,686.2" fill="none" stroke="#666" stroke-width="0.9"/>
<path d="M322.2,673 L395,633.4 M366.8,669.3 L395,653.2 M335.8,637 L335.8,664 M340.8,636 L340.8,658 M348.2,631 L348.2,658 M354.4,630 L354.4,652 M302,660 L303,672" fill="none" stroke="#777" stroke-width="0.9"/>
<path d="M335.8,664 Q338,672 342,679 M340.8,658 Q344,666 349.5,674 M348.2,658 Q352,666 357,671.5 M354.4,652 Q358.5,661 364,670" fill="none" stroke="#888" stroke-width="0.8"/>
<path d="M394,641 Q394,636 399,636 Q404,635 407,638 Q412,638 415,641 Q417,645 413,648 Q409,652 402,651 Q396,649 394,645 Z" fill="none" stroke="#555" stroke-width="0.9"/>
<path d="M397,641 Q398,638 402,638.5 Q406,639 409,641 Q412,643 409,646 Q404,648 400,646 Q397,644 397,641 Z M402,641.5 Q405,640.5 407,642.5" fill="none" stroke="#444" stroke-width="0.9"/>
<path d="M389.7,632.7 Q396,630 402.3,630.4 Q409,630.5 414.2,632.7 M429,623.8 L429,644.6 M422.3,613.4 L432,620.8" fill="none" stroke="#777" stroke-width="0.9"/>
<path d="M455,695 Q456,689 463,688 Q471,688 474,693 L472,697 M458,690 Q462,694 466,693" fill="none" stroke="#333" stroke-width="1"/>
<path d="M501,664 Q504,666 503,671 M505,663 Q508,667 506,671" fill="none" stroke="#444" stroke-width="1"/>

<g fill="none" stroke-linecap="butt">
<path d="M292.6,194 V322 M292.6,325.5 V333 M292.6,336.5 V557 M292.6,560 V570 M292.6,573.5 V672.5 M292.6,676 V683 M292.6,686.5 V697 M292.6,700 V711 M292.6,714.5 V721 M292.6,724.5 V728" stroke="#555" stroke-width="1.1"/>
<path d="M419.1,585 V684.5" stroke="#666" stroke-width="1.1"/>
</g>
</svg>
</body></html>
